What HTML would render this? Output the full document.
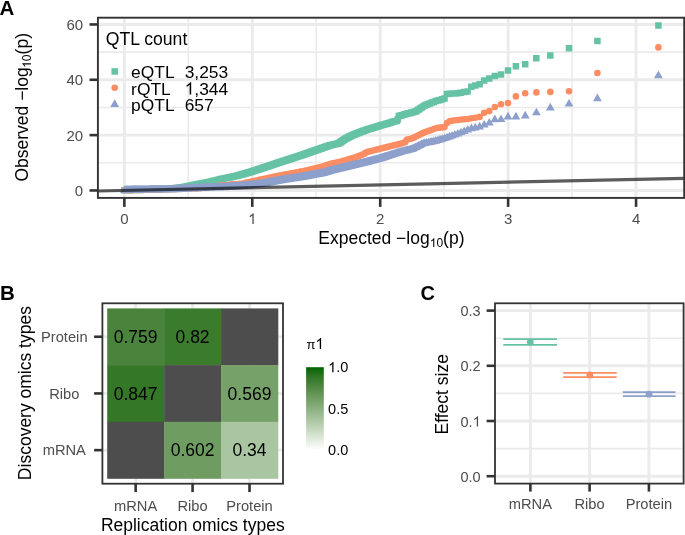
<!DOCTYPE html>
<html><head><meta charset="utf-8"><style>
html,body{margin:0;padding:0;background:#fff;}
body{width:685px;height:535px;overflow:hidden;font-family:"Liberation Sans",sans-serif;}
svg{display:block;will-change:transform;}
</style></head><body>
<svg width="685" height="535" viewBox="0 0 685 535">
<rect width="685" height="535" fill="#fff"/>
<rect x="97.9" y="17.7" width="586.3000000000001" height="180.20000000000002" fill="#fff"/>
<line x1="188.31" y1="17.7" x2="188.31" y2="197.9" stroke="#EBEBEB" stroke-width="1.6"/>
<line x1="316.24" y1="17.7" x2="316.24" y2="197.9" stroke="#EBEBEB" stroke-width="1.6"/>
<line x1="444.16" y1="17.7" x2="444.16" y2="197.9" stroke="#EBEBEB" stroke-width="1.6"/>
<line x1="572.09" y1="17.7" x2="572.09" y2="197.9" stroke="#EBEBEB" stroke-width="1.6"/>
<line x1="97.9" y1="162.78" x2="684.2" y2="162.78" stroke="#EBEBEB" stroke-width="1.6"/>
<line x1="97.9" y1="107.45" x2="684.2" y2="107.45" stroke="#EBEBEB" stroke-width="1.6"/>
<line x1="97.9" y1="52.11" x2="684.2" y2="52.11" stroke="#EBEBEB" stroke-width="1.6"/>
<line x1="124.35" y1="17.7" x2="124.35" y2="197.9" stroke="#EBEBEB" stroke-width="2.9"/>
<line x1="252.27" y1="17.7" x2="252.27" y2="197.9" stroke="#EBEBEB" stroke-width="2.9"/>
<line x1="380.20" y1="17.7" x2="380.20" y2="197.9" stroke="#EBEBEB" stroke-width="2.9"/>
<line x1="508.12" y1="17.7" x2="508.12" y2="197.9" stroke="#EBEBEB" stroke-width="2.9"/>
<line x1="636.05" y1="17.7" x2="636.05" y2="197.9" stroke="#EBEBEB" stroke-width="2.9"/>
<line x1="97.9" y1="190.45" x2="684.2" y2="190.45" stroke="#EBEBEB" stroke-width="2.9"/>
<line x1="97.9" y1="135.12" x2="684.2" y2="135.12" stroke="#EBEBEB" stroke-width="2.9"/>
<line x1="97.9" y1="79.78" x2="684.2" y2="79.78" stroke="#EBEBEB" stroke-width="2.9"/>
<line x1="97.9" y1="24.45" x2="684.2" y2="24.45" stroke="#EBEBEB" stroke-width="2.9"/>
<path d="M658.4 25.4h.02M597.4 41.0h.02M569.0 48.2h.02M550.3 55.5h.02M536.3 58.3h.02M525.2 64.2h.02M515.9 66.2h.02M508.0 70.4h.02M501.0 74.4h.02M494.8 76.1h.02M489.3 78.6h.02M484.2 80.5h.02M479.6 84.3h.02M475.3 85.5h.02M471.3 86.7h.02M467.6 91.4h.02M464.2 92.1h.02M460.9 92.8h.02M457.8 93.2h.02M454.9 93.4h.02M452.1 93.5h.02M449.5 93.7h.02M446.9 93.9h.02M444.5 98.5h.02M442.2 99.3h.02M440.0 99.9h.02M437.9 100.4h.02M435.8 101.1h.02M433.8 101.9h.02M431.9 102.6h.02M430.0 103.4h.02M428.3 104.1h.02M426.5 104.8h.02M424.8 105.5h.02M423.2 106.4h.02M421.6 107.5h.02M420.1 108.5h.02M418.6 109.5h.02M417.1 110.5h.02M415.7 111.4h.02M414.3 111.8h.02M412.9 112.2h.02M411.6 112.6h.02M410.3 112.9h.02M409.1 113.2h.02M407.8 113.5h.02M406.6 113.8h.02M405.4 114.2h.02M404.3 114.6h.02M403.1 114.9h.02M402.0 115.2h.02M400.9 115.5h.02M399.9 115.7h.02M398.8 115.9h.02M397.8 119.2h.02M396.8 120.9h.02M395.8 121.1h.02M394.8 121.3h.02M393.9 121.4h.02M392.9 121.8h.02M392.0 122.1h.02M391.1 122.4h.02M390.2 122.7h.02M389.3 122.9h.02M388.4 123.2h.02M387.6 123.4h.02M386.7 123.7h.02M385.9 123.9h.02M385.1 124.2h.02M384.3 124.4h.02M383.5 124.6h.02M382.7 124.9h.02M382.0 125.1h.02M381.2 125.3h.02M380.4 125.6h.02M379.7 125.8h.02M379.0 126.0h.02M378.2 126.2h.02M377.5 126.4h.02M376.8 126.6h.02M376.1 126.9h.02M375.5 127.1h.02M374.8 127.3h.02M374.1 127.5h.02M373.4 127.7h.02M372.8 127.9h.02M372.1 128.1h.02M371.5 128.3h.02M370.9 128.5h.02M370.3 128.7h.02M369.6 128.8h.02M369.0 129.0h.02M368.4 129.2h.02M367.8 129.4h.02M367.2 129.6h.02M366.6 129.8h.02M366.1 130.0h.02M365.5 130.2h.02M364.9 130.4h.02M364.4 130.6h.02M363.8 130.8h.02M363.3 131.0h.02M362.7 131.2h.02M362.2 131.4h.02M361.6 131.6h.02M361.1 131.8h.02M360.6 132.0h.02M360.1 132.2h.02M359.6 132.4h.02M359.0 132.6h.02M358.5 132.8h.02M358.0 133.0h.02M357.5 133.2h.02M357.1 133.4h.02M356.6 133.5h.02M356.1 133.7h.02M355.6 133.9h.02M355.1 134.1h.02M354.7 134.3h.02M354.2 134.4h.02M353.7 134.7h.02M353.3 134.9h.02M352.8 135.1h.02M352.4 135.3h.02M351.9 135.6h.02M351.5 135.8h.02M351.0 136.0h.02M350.6 136.2h.02M350.2 136.4h.02M349.7 136.6h.02M349.3 136.8h.02M348.9 137.0h.02M348.5 137.3h.02M348.0 137.5h.02M347.6 137.7h.02M347.2 137.9h.02M346.8 138.1h.02M346.4 138.3h.02M346.0 138.5h.02M345.6 138.6h.02M345.2 138.9h.02M344.8 139.2h.02M344.4 139.5h.02M344.0 139.7h.02M343.6 140.0h.02M343.3 140.3h.02M342.9 140.5h.02M342.5 140.8h.02M342.1 141.1h.02M341.8 141.3h.02M341.4 141.6h.02M341.0 141.9h.02M340.6 142.1h.02M340.3 142.4h.02M339.9 142.6h.02M339.6 142.9h.02M339.2 143.1h.02M338.9 143.3h.02M338.5 143.4h.02M338.2 143.5h.02M337.8 143.6h.02M337.5 143.6h.02M337.1 143.7h.02M336.8 143.8h.02M336.4 143.9h.02M336.1 143.9h.02M335.8 144.0h.02M335.4 144.1h.02M335.1 144.2h.02M334.8 144.2h.02M334.5 144.3h.02M334.1 144.4h.02M333.8 144.5h.02M333.5 144.5h.02M333.2 144.6h.02M332.8 144.7h.02M332.5 144.7h.02M332.2 144.8h.02M331.9 144.9h.02M331.6 144.9h.02M331.3 145.0h.02M331.0 145.1h.02M330.7 145.1h.02M330.4 145.2h.02M330.1 145.3h.02M329.8 145.4h.02M329.5 145.5h.02M329.2 145.6h.02M328.9 145.7h.02M328.6 145.8h.02M328.3 145.9h.02M328.0 146.0h.02M327.7 146.1h.02M327.4 146.2h.02M327.1 146.3h.02M326.9 146.4h.02M326.6 146.5h.02M326.3 146.6h.02M326.0 146.7h.02M325.7 146.8h.02M325.4 146.9h.02M325.2 147.0h.02M324.9 147.1h.02M324.6 147.2h.02M324.4 147.3h.02M324.1 147.4h.02M323.8 147.5h.02M323.5 147.6h.02M323.3 147.7h.02M323.0 147.8h.02M322.7 147.8h.02M322.5 147.9h.02M322.2 148.0h.02M322.0 148.1h.02M321.7 148.2h.02M321.4 148.3h.02M321.2 148.4h.02M320.9 148.5h.02M320.7 148.6h.02M320.4 148.7h.02M320.2 148.7h.02M319.9 148.8h.02M319.7 148.9h.02M319.4 149.0h.02M319.2 149.1h.02M318.9 149.2h.02M318.7 149.3h.02M318.4 149.3h.02M318.2 149.4h.02M317.9 149.5h.02M317.7 149.6h.02M317.5 149.7h.02M317.2 149.8h.02M317.0 149.9h.02M316.7 149.9h.02M316.5 150.0h.02M316.3 150.1h.02M316.0 150.2h.02M315.8 150.3h.02M315.6 150.3h.02M315.3 150.4h.02M315.1 150.5h.02M314.9 150.6h.02M314.7 150.7h.02M314.4 150.7h.02M314.2 150.8h.02M314.0 150.9h.02M313.7 151.0h.02M313.5 151.1h.02M313.3 151.1h.02M313.1 151.2h.02M312.9 151.3h.02M312.6 151.4h.02M312.4 151.4h.02M312.2 151.5h.02M312.0 151.6h.02M311.8 151.7h.02M311.5 151.7h.02M311.3 151.8h.02M311.1 151.9h.02M310.9 152.0h.02M310.7 152.0h.02M310.5 152.1h.02M310.3 152.2h.02M310.1 152.3h.02M309.9 152.3h.02M309.6 152.4h.02M309.4 152.5h.02M309.2 152.6h.02M309.0 152.6h.02M308.8 152.7h.02M308.6 152.8h.02M308.4 152.8h.02M308.2 152.9h.02M308.0 153.0h.02M307.8 153.0h.02M307.6 153.1h.02M307.4 153.2h.02M307.2 153.3h.02M307.0 153.3h.02M306.8 153.4h.02M306.6 153.5h.02M306.4 153.5h.02M306.2 153.6h.02M306.0 153.7h.02M305.8 153.7h.02M305.6 153.8h.02M305.4 153.9h.02M305.2 153.9h.02M305.0 154.0h.02M304.9 154.1h.02M304.7 154.1h.02M304.5 154.2h.02M304.3 154.3h.02M304.1 154.3h.02M303.9 154.4h.02M303.7 154.5h.02M303.5 154.5h.02M303.3 154.6h.02M303.2 154.7h.02M303.0 154.7h.02M302.8 154.8h.02M302.6 154.9h.02M302.4 154.9h.02M302.2 155.0h.02M302.1 155.0h.02M301.9 155.1h.02M301.5 155.2h.02M301.3 155.3h.02M301.2 155.3h.02M301.0 155.4h.02M300.8 155.5h.02M300.6 155.5h.02M300.4 155.6h.02M300.3 155.6h.02M299.9 155.7h.02M299.7 155.8h.02M299.4 155.9h.02M299.0 156.0h.02M298.7 156.1h.02M298.4 156.3h.02M298.2 156.3h.02M297.9 156.4h.02M297.5 156.5h.02M297.2 156.6h.02M296.9 156.7h.02M296.5 156.9h.02M296.4 156.9h.02M296.2 157.0h.02M295.9 157.1h.02M295.7 157.1h.02M295.5 157.2h.02M295.1 157.3h.02M294.7 157.4h.02M294.4 157.5h.02M294.1 157.6h.02M293.8 157.7h.02M293.3 157.9h.02M293.2 157.9h.02M293.0 158.0h.02M292.7 158.1h.02M292.6 158.1h.02M292.4 158.2h.02M291.9 158.3h.02M291.6 158.4h.02M291.3 158.5h.02M290.9 158.7h.02M290.7 158.7h.02M290.6 158.8h.02M290.3 158.9h.02M290.2 158.9h.02M289.9 159.0h.02M289.6 159.1h.02M289.1 159.3h.02M289.0 159.3h.02M288.8 159.4h.02M288.6 159.5h.02M288.4 159.5h.02M288.1 159.6h.02M287.9 159.7h.02M287.7 159.7h.02M287.4 159.8h.02M287.2 159.9h.02M286.7 160.0h.02M286.5 160.1h.02M286.1 160.3h.02M285.9 160.3h.02M285.6 160.4h.02M285.4 160.5h.02M285.2 160.5h.02M285.0 160.6h.02M284.7 160.7h.02M284.3 160.8h.02M284.0 160.9h.02M283.9 161.0h.02M283.7 161.1h.02M283.5 161.1h.02M283.3 161.2h.02M282.9 161.3h.02M282.5 161.4h.02M282.2 161.5h.02M281.9 161.6h.02M281.6 161.7h.02M281.5 161.8h.02M281.1 161.9h.02M281.0 161.9h.02M280.9 162.0h.02M280.5 162.1h.02M280.1 162.2h.02M279.9 162.3h.02M279.7 162.3h.02M279.4 162.5h.02M279.3 162.5h.02M279.0 162.6h.02M278.7 162.7h.02M278.3 162.8h.02M278.1 162.9h.02M277.9 162.9h.02M277.7 163.0h.02M277.4 163.1h.02M276.9 163.3h.02M276.8 163.3h.02M276.6 163.4h.02M276.2 163.5h.02M275.9 163.6h.02M275.6 163.7h.02M275.5 163.7h.02M275.2 163.9h.02M275.0 163.9h.02M274.9 164.0h.02M274.5 164.1h.02M274.4 164.1h.02M274.2 164.2h.02M273.9 164.3h.02M273.8 164.3h.02M273.4 164.4h.02M273.2 164.5h.02M273.1 164.5h.02M272.8 164.7h.02M272.6 164.7h.02M272.5 164.8h.02M272.0 164.9h.02M271.7 165.0h.02M271.4 165.1h.02M271.0 165.3h.02M270.8 165.3h.02M270.7 165.4h.02M270.4 165.5h.02M270.2 165.5h.02M270.0 165.6h.02M269.6 165.7h.02M269.5 165.7h.02M269.2 165.8h.02M268.9 165.9h.02M268.5 166.1h.02M268.3 166.1h.02M268.2 166.2h.02M267.9 166.3h.02M267.8 166.3h.02M267.6 166.4h.02M267.2 166.5h.02M266.8 166.6h.02M266.6 166.7h.02M266.5 166.7h.02M266.1 166.9h.02M266.0 166.9h.02M265.7 167.0h.02M265.4 167.1h.02M265.4 167.1h.02M265.1 167.2h.02M264.8 167.3h.02M264.7 167.3h.02M264.3 167.5h.02M264.1 167.5h.02M264.1 167.6h.02M263.7 167.7h.02M263.6 167.7h.02M263.3 167.8h.02M263.0 167.9h.02M262.6 168.0h.02M262.3 168.1h.02M262.3 168.1h.02M261.9 168.3h.02M261.7 168.3h.02M261.5 168.4h.02M261.2 168.5h.02M260.8 168.6h.02M260.6 168.7h.02M260.5 168.7h.02M260.2 168.8h.02M260.0 168.9h.02M259.8 169.0h.02M259.5 169.1h.02M259.3 169.1h.02M259.1 169.2h.02M258.8 169.3h.02M258.7 169.3h.02M258.4 169.4h.02M258.1 169.5h.02M257.7 169.6h.02M257.5 169.7h.02M257.4 169.7h.02M257.0 169.9h.02M256.8 169.9h.02M256.7 170.0h.02M256.4 170.1h.02M256.2 170.1h.02M256.0 170.2h.02M255.6 170.3h.02M255.6 170.3h.02M255.3 170.4h.02M254.9 170.5h.02M254.6 170.6h.02M254.3 170.7h.02M254.2 170.7h.02M253.9 170.9h.02M253.7 170.9h.02M253.6 171.0h.02M253.2 171.1h.02M253.1 171.1h.02M252.8 171.2h.02M252.5 171.3h.02M252.1 171.4h.02M251.8 171.5h.02M251.8 171.5h.02M251.4 171.7h.02M251.2 171.7h.02M251.1 171.8h.02M250.7 171.9h.02M250.6 171.9h.02M250.4 172.0h.02M250.0 172.1h.02M249.7 172.2h.02M249.4 172.3h.02M249.3 172.3h.02M249.0 172.4h.02M248.8 172.5h.02M248.6 172.5h.02M248.3 172.6h.02M248.0 172.7h.02M247.9 172.7h.02M247.6 172.8h.02M247.3 172.9h.02M247.2 172.9h.02M246.9 173.0h.02M246.6 173.1h.02M246.5 173.1h.02M246.2 173.2h.02M245.8 173.3h.02M245.5 173.4h.02M245.1 173.5h.02M244.8 173.6h.02M244.4 173.7h.02M244.1 173.8h.02M243.8 173.9h.02M243.6 173.9h.02M243.4 174.0h.02M243.0 174.1h.02M242.9 174.1h.02M242.7 174.2h.02M242.3 174.3h.02M242.2 174.3h.02M242.0 174.4h.02M241.6 174.5h.02M241.5 174.5h.02M241.3 174.6h.02M240.9 174.7h.02M240.7 174.7h.02M240.6 174.7h.02M240.2 174.8h.02M240.0 174.9h.02M239.9 174.9h.02M239.5 175.0h.02M239.3 175.1h.02M239.2 175.1h.02M238.8 175.2h.02M238.6 175.3h.02M238.5 175.3h.02M238.1 175.4h.02M237.9 175.5h.02M237.8 175.5h.02M237.5 175.6h.02M237.1 175.7h.02M236.7 175.8h.02M236.4 175.9h.02M236.0 176.0h.02M235.7 176.1h.02M235.3 176.2h.02M235.0 176.2h.02M234.7 176.3h.02M234.6 176.3h.02M234.3 176.4h.02M233.9 176.5h.02M233.7 176.5h.02M233.6 176.5h.02M233.2 176.6h.02M232.9 176.7h.02M232.8 176.7h.02M232.6 176.7h.02M232.2 176.8h.02M231.8 176.9h.02M231.8 176.9h.02M231.5 177.0h.02M231.1 177.0h.02M230.8 177.1h.02M230.8 177.1h.02M230.4 177.2h.02M230.1 177.3h.02M229.8 177.3h.02M229.7 177.3h.02M229.4 177.4h.02M229.0 177.5h.02M228.9 177.5h.02M228.7 177.5h.02M228.4 177.6h.02M228.0 177.7h.02M227.9 177.7h.02M227.6 177.8h.02M227.3 177.8h.02M226.9 177.9h.02M226.6 178.0h.02M226.2 178.1h.02M225.9 178.1h.02M225.9 178.1h.02M225.5 178.2h.02M225.2 178.3h.02M225.0 178.3h.02M224.8 178.3h.02M224.5 178.4h.02M224.1 178.5h.02M224.0 178.5h.02M223.8 178.6h.02M223.5 178.6h.02M223.1 178.7h.02M223.1 178.7h.02M222.8 178.8h.02M222.4 178.8h.02M222.2 178.9h.02M222.0 178.9h.02M221.7 179.0h.02M221.3 179.1h.02M221.0 179.2h.02M220.7 179.3h.02M220.5 179.3h.02M220.3 179.4h.02M220.0 179.4h.02M219.7 179.5h.02M219.6 179.5h.02M219.3 179.6h.02M218.9 179.7h.02M218.8 179.7h.02M218.6 179.8h.02M218.2 179.9h.02M218.0 179.9h.02M217.8 180.0h.02M217.5 180.0h.02M217.2 180.1h.02M217.2 180.1h.02M216.8 180.2h.02M216.5 180.3h.02M216.4 180.3h.02M216.1 180.4h.02M215.8 180.5h.02M215.6 180.5h.02M215.4 180.5h.02M215.0 180.6h.02M214.7 180.7h.02M214.7 180.7h.02M214.4 180.8h.02M214.0 180.9h.02M213.9 180.9h.02M213.6 181.0h.02M213.3 181.1h.02M213.1 181.1h.02M212.9 181.1h.02M212.6 181.2h.02M212.3 181.3h.02M211.9 181.4h.02M211.5 181.5h.02M211.4 181.5h.02M211.2 181.6h.02M210.8 181.7h.02M210.6 181.7h.02M210.5 181.7h.02M210.1 181.8h.02M209.8 181.9h.02M209.4 182.0h.02M209.1 182.1h.02M208.9 182.1h.02M208.8 182.1h.02M208.4 182.2h.02M208.1 182.3h.02M207.8 182.3h.02M207.7 182.3h.02M207.4 182.4h.02M207.0 182.5h.02M206.8 182.5h.02M206.7 182.5h.02M206.3 182.6h.02M206.0 182.7h.02M205.7 182.7h.02M205.6 182.7h.02M205.2 182.8h.02M204.9 182.9h.02M204.6 182.9h.02M204.6 182.9h.02M204.2 183.0h.02M203.9 183.1h.02M203.6 183.1h.02M203.5 183.1h.02M203.2 183.2h.02M202.8 183.3h.02M202.6 183.3h.02M202.5 183.3h.02M202.1 183.4h.02M201.8 183.5h.02M201.5 183.5h.02M201.4 183.5h.02M201.0 183.6h.02M200.7 183.7h.02M200.5 183.7h.02M200.3 183.7h.02M200.0 183.8h.02M199.7 183.9h.02M199.4 183.9h.02M199.3 183.9h.02M199.0 184.0h.02M198.6 184.1h.02M198.4 184.1h.02M198.3 184.1h.02M197.9 184.2h.02M197.6 184.3h.02M197.3 184.3h.02M197.2 184.3h.02M196.8 184.4h.02M196.5 184.5h.02M196.3 184.5h.02M196.1 184.5h.02M195.8 184.6h.02M195.4 184.7h.02M195.3 184.7h.02M195.1 184.7h.02M194.8 184.8h.02M194.4 184.9h.02M194.3 184.9h.02M194.0 185.0h.02M193.7 185.0h.02M193.3 185.1h.02M193.0 185.2h.02M192.7 185.2h.02M192.4 185.3h.02M192.3 185.3h.02M192.0 185.4h.02M191.6 185.5h.02M191.4 185.5h.02M191.3 185.5h.02M190.9 185.6h.02M190.5 185.7h.02M190.4 185.7h.02M190.2 185.7h.02M189.9 185.8h.02M189.5 185.9h.02M189.4 185.9h.02M189.1 186.0h.02M188.8 186.0h.02M188.5 186.1h.02M188.1 186.2h.02M187.8 186.2h.02M187.5 186.3h.02M187.4 186.3h.02M187.1 186.4h.02M186.7 186.5h.02M186.5 186.5h.02M186.4 186.5h.02M186.0 186.6h.02M185.7 186.7h.02M185.5 186.7h.02M185.3 186.7h.02M184.9 186.8h.02M184.6 186.9h.02M184.6 186.9h.02M184.2 187.0h.02M183.9 187.0h.02M183.6 187.1h.02M183.6 187.1h.02M183.2 187.2h.02M182.8 187.2h.02M182.5 187.3h.02M182.3 187.3h.02M182.1 187.3h.02M181.8 187.4h.02M181.5 187.4h.02M181.1 187.4h.02M180.8 187.5h.02M180.6 187.5h.02M180.4 187.5h.02M180.0 187.6h.02M179.7 187.6h.02M179.4 187.7h.02M179.0 187.7h.02M179.0 187.7h.02M178.7 187.7h.02M178.3 187.8h.02M178.0 187.8h.02M177.6 187.9h.02M177.3 187.9h.02M177.2 187.9h.02M176.9 188.0h.02M176.6 188.0h.02M176.2 188.0h.02M175.9 188.1h.02M175.7 188.1h.02M175.5 188.1h.02M175.2 188.2h.02M174.8 188.2h.02M174.5 188.3h.02M174.1 188.3h.02M174.1 188.3h.02M173.7 188.3h.02M173.4 188.4h.02M173.0 188.4h.02M172.7 188.5h.02M172.4 188.5h.02M172.4 188.5h.02M172.0 188.6h.02M171.7 188.6h.02M171.3 188.6h.02M170.9 188.7h.02M170.8 188.7h.02M170.6 188.7h.02M170.3 188.8h.02M169.9 188.8h.02M169.6 188.8h.02M169.2 188.8h.02M168.9 188.8h.02M168.5 188.9h.02M168.2 188.9h.02M167.8 188.9h.02M167.5 188.9h.02M167.5 188.9h.02M167.1 188.9h.02M166.8 188.9h.02M166.4 188.9h.02M166.1 189.0h.02M165.7 189.0h.02M165.4 189.0h.02M165.0 189.0h.02M164.7 189.0h.02M164.3 189.0h.02M164.0 189.0h.02M163.6 189.1h.02M163.3 189.1h.02M162.9 189.1h.02M162.6 189.1h.02M162.5 189.1h.02M162.2 189.1h.02M161.9 189.1h.02M161.5 189.1h.02M161.2 189.2h.02M160.8 189.2h.02M160.5 189.2h.02M160.1 189.2h.02M159.8 189.2h.02M159.4 189.2h.02M159.1 189.2h.02M158.7 189.3h.02M158.4 189.3h.02M158.0 189.3h.02M157.7 189.3h.02M157.5 189.3h.02M157.3 189.3h.02M157.0 189.3h.02M156.6 189.3h.02M156.3 189.3h.02M155.9 189.4h.02M155.6 189.4h.02M155.2 189.4h.02M154.9 189.4h.02M154.5 189.4h.02M154.2 189.4h.02M153.8 189.4h.02M153.5 189.5h.02M153.1 189.5h.02M152.8 189.5h.02M152.5 189.5h.02M152.4 189.5h.02M152.1 189.5h.02M151.7 189.5h.02M151.4 189.5h.02M151.0 189.6h.02M150.7 189.6h.02M150.3 189.6h.02M150.0 189.6h.02M149.6 189.6h.02M149.3 189.6h.02M148.9 189.6h.02M148.6 189.6h.02M148.2 189.6h.02M147.9 189.7h.02M147.5 189.7h.02M147.2 189.7h.02M146.8 189.7h.02M146.5 189.7h.02M146.3 189.7h.02M146.1 189.7h.02M145.8 189.7h.02M145.4 189.7h.02M145.1 189.7h.02M144.7 189.7h.02M144.4 189.8h.02M144.0 189.8h.02M143.7 189.8h.02M143.3 189.8h.02M143.0 189.8h.02M142.6 189.8h.02M142.3 189.8h.02M141.9 189.8h.02M141.6 189.8h.02M141.2 189.8h.02M140.9 189.8h.02M140.5 189.9h.02M140.2 189.9h.02M139.8 189.9h.02M139.5 189.9h.02M139.1 189.9h.02M139.0 189.9h.02M138.8 189.9h.02M138.4 189.9h.02M138.1 189.9h.02M137.7 189.9h.02M137.4 189.9h.02M137.0 190.0h.02M136.7 190.0h.02M136.3 190.0h.02M136.0 190.0h.02M135.6 190.0h.02M135.3 190.0h.02M134.9 190.0h.02M134.6 190.0h.02M134.2 190.0h.02M133.9 190.0h.02M133.5 190.1h.02M133.2 190.1h.02M132.8 190.1h.02M132.5 190.1h.02M132.1 190.1h.02M131.8 190.1h.02M131.7 190.1h.02M131.4 190.1h.02M131.1 190.1h.02M130.7 190.1h.02M130.4 190.1h.02M130.0 190.1h.02M129.7 190.2h.02M129.3 190.2h.02M129.0 190.2h.02M128.6 190.2h.02M128.3 190.2h.02M127.9 190.2h.02M127.6 190.2h.02M127.2 190.2h.02M126.9 190.2h.02M126.5 190.2h.02M126.2 190.3h.02M125.8 190.3h.02M125.5 190.3h.02M125.1 190.3h.02M124.8 190.3h.02M124.4 190.3h.02" stroke="#66C2A5" stroke-width="6.5" stroke-linecap="square" fill="none"/>
<path d="M658.4 47.4h.01M597.4 73.0h.01M569.0 91.3h.01M550.3 91.9h.01M536.4 92.4h.01M525.2 93.2h.01M515.9 96.4h.01M508.0 103.1h.01M501.0 104.2h.01M494.8 107.0h.01M489.3 111.1h.01M484.2 112.8h.01M479.6 116.9h.01M475.3 117.7h.01M471.4 118.2h.01M467.7 119.0h.01M464.2 119.3h.01M460.9 119.6h.01M457.8 120.0h.01M454.9 120.3h.01M452.1 120.7h.01M449.5 121.2h.01M447.0 123.0h.01M444.5 127.1h.01M442.2 127.4h.01M440.0 127.6h.01M437.9 127.9h.01M435.8 128.3h.01M433.8 129.0h.01M431.9 129.7h.01M430.1 130.4h.01M428.3 131.0h.01M426.5 131.6h.01M424.8 132.2h.01M423.2 132.9h.01M421.6 133.7h.01M420.1 134.5h.01M418.6 135.3h.01M417.1 136.0h.01M415.7 136.7h.01M414.3 137.4h.01M412.9 138.1h.01M411.6 138.6h.01M410.3 138.8h.01M409.1 139.0h.01M407.8 139.3h.01M406.6 140.1h.01M405.4 142.0h.01M404.3 142.5h.01M403.2 143.0h.01M402.0 143.3h.01M401.0 143.6h.01M399.9 143.9h.01M398.8 144.1h.01M397.8 144.4h.01M396.8 144.6h.01M395.8 144.9h.01M394.8 145.1h.01M393.9 145.3h.01M392.9 145.6h.01M392.0 145.8h.01M391.1 146.0h.01M390.2 146.3h.01M389.3 146.5h.01M388.5 146.7h.01M387.6 146.9h.01M386.8 147.1h.01M385.9 147.3h.01M385.1 147.5h.01M384.3 147.7h.01M383.5 148.0h.01M382.7 148.1h.01M382.0 148.3h.01M381.2 148.5h.01M380.4 148.7h.01M379.7 148.9h.01M379.0 149.1h.01M378.3 149.3h.01M377.5 149.5h.01M376.8 149.6h.01M376.1 149.8h.01M375.5 150.0h.01M374.8 150.1h.01M374.1 150.3h.01M373.5 150.5h.01M372.8 150.6h.01M372.2 150.8h.01M371.5 151.0h.01M370.9 151.1h.01M370.3 151.3h.01M369.6 151.4h.01M369.0 151.6h.01M368.4 151.7h.01M367.8 151.9h.01M367.2 152.0h.01M366.7 152.2h.01M366.1 152.5h.01M365.5 152.9h.01M364.9 153.3h.01M364.4 153.7h.01M363.8 154.1h.01M363.3 154.3h.01M362.7 154.5h.01M362.2 154.7h.01M361.7 154.9h.01M361.1 155.1h.01M360.6 155.3h.01M360.1 155.5h.01M359.6 155.7h.01M359.1 155.9h.01M358.6 156.1h.01M358.1 156.3h.01M357.6 156.5h.01M357.1 156.6h.01M356.6 156.8h.01M356.1 157.0h.01M355.6 157.2h.01M355.1 157.4h.01M354.7 157.6h.01M354.2 157.7h.01M353.7 157.9h.01M353.3 158.0h.01M352.8 158.1h.01M352.4 158.3h.01M351.9 158.4h.01M351.5 158.5h.01M351.0 158.7h.01M350.6 158.8h.01M350.2 158.9h.01M349.7 159.1h.01M349.3 159.2h.01M348.9 159.3h.01M348.5 159.4h.01M348.0 159.6h.01M347.6 159.7h.01M347.2 159.8h.01M346.8 159.9h.01M346.4 160.0h.01M346.0 160.2h.01M345.6 160.3h.01M345.2 160.4h.01M344.8 160.5h.01M344.4 160.6h.01M344.0 160.8h.01M343.7 160.9h.01M343.3 161.0h.01M342.9 161.1h.01M342.5 161.2h.01M342.1 161.3h.01M341.8 161.4h.01M341.4 161.5h.01M341.0 161.6h.01M340.7 161.7h.01M340.3 161.7h.01M339.9 161.8h.01M339.6 161.9h.01M339.2 162.0h.01M338.9 162.1h.01M338.5 162.1h.01M338.2 162.2h.01M337.8 162.3h.01M337.5 162.4h.01M337.1 162.5h.01M336.8 162.5h.01M336.5 162.6h.01M336.1 162.7h.01M335.8 162.8h.01M335.4 162.8h.01M335.1 162.9h.01M334.8 163.0h.01M334.5 163.1h.01M334.1 163.2h.01M333.8 163.2h.01M333.5 163.3h.01M333.2 163.4h.01M332.9 163.4h.01M332.5 163.5h.01M332.2 163.6h.01M331.9 163.7h.01M331.6 163.7h.01M331.3 163.8h.01M331.0 163.9h.01M330.7 163.9h.01M330.4 164.0h.01M330.1 164.1h.01M329.8 164.2h.01M329.5 164.3h.01M329.2 164.4h.01M328.9 164.5h.01M328.6 164.6h.01M328.3 164.7h.01M328.0 164.8h.01M327.7 164.9h.01M327.4 165.0h.01M327.1 165.1h.01M326.9 165.2h.01M326.6 165.3h.01M326.3 165.4h.01M326.0 165.4h.01M325.7 165.5h.01M325.5 165.6h.01M325.2 165.7h.01M324.9 165.8h.01M324.6 165.9h.01M324.4 166.0h.01M324.1 166.1h.01M323.8 166.2h.01M323.6 166.3h.01M323.3 166.4h.01M323.0 166.5h.01M322.8 166.5h.01M322.5 166.6h.01M322.2 166.7h.01M322.0 166.8h.01M321.7 166.8h.01M321.5 166.9h.01M321.2 166.9h.01M320.9 167.0h.01M320.7 167.1h.01M320.4 167.1h.01M320.2 167.2h.01M319.9 167.2h.01M319.7 167.3h.01M319.4 167.4h.01M319.2 167.4h.01M318.9 167.5h.01M318.7 167.5h.01M318.4 167.6h.01M318.2 167.7h.01M318.0 167.7h.01M317.7 167.8h.01M317.5 167.8h.01M317.2 167.9h.01M317.0 167.9h.01M316.8 168.0h.01M316.5 168.1h.01M316.3 168.1h.01M316.1 168.2h.01M315.8 168.2h.01M315.6 168.3h.01M315.4 168.3h.01M315.1 168.4h.01M314.9 168.5h.01M314.7 168.5h.01M314.4 168.6h.01M314.2 168.6h.01M314.0 168.7h.01M313.8 168.7h.01M313.5 168.8h.01M313.3 168.8h.01M313.1 168.9h.01M312.9 168.9h.01M312.6 169.0h.01M312.4 169.0h.01M312.2 169.1h.01M312.0 169.1h.01M311.8 169.2h.01M311.6 169.3h.01M311.3 169.3h.01M311.1 169.4h.01M310.9 169.4h.01M310.7 169.5h.01M310.5 169.5h.01M310.3 169.6h.01M310.1 169.6h.01M309.9 169.7h.01M309.7 169.7h.01M309.4 169.8h.01M309.2 169.8h.01M309.0 169.9h.01M308.8 169.9h.01M308.6 170.0h.01M308.4 170.0h.01M308.2 170.1h.01M308.0 170.1h.01M307.8 170.2h.01M307.6 170.2h.01M307.4 170.2h.01M307.2 170.3h.01M307.0 170.3h.01M306.8 170.4h.01M306.6 170.4h.01M306.4 170.5h.01M306.2 170.5h.01M306.0 170.6h.01M305.8 170.6h.01M305.6 170.7h.01M305.4 170.7h.01M305.2 170.8h.01M305.1 170.8h.01M304.9 170.9h.01M304.7 170.9h.01M304.5 171.0h.01M304.3 171.0h.01M303.9 171.1h.01M303.7 171.1h.01M303.5 171.2h.01M303.4 171.2h.01M303.2 171.3h.01M303.0 171.3h.01M302.8 171.4h.01M302.6 171.4h.01M302.4 171.4h.01M302.2 171.5h.01M302.1 171.5h.01M301.9 171.6h.01M301.5 171.6h.01M301.3 171.7h.01M301.2 171.7h.01M301.0 171.7h.01M300.8 171.8h.01M300.6 171.8h.01M300.5 171.8h.01M300.3 171.8h.01M299.9 171.9h.01M299.8 171.9h.01M299.4 172.0h.01M299.1 172.1h.01M298.7 172.1h.01M298.4 172.2h.01M297.9 172.3h.01M297.7 172.3h.01M297.5 172.3h.01M297.2 172.4h.01M296.9 172.5h.01M296.5 172.5h.01M296.2 172.6h.01M295.9 172.6h.01M295.6 172.7h.01M295.4 172.7h.01M295.1 172.8h.01M294.8 172.8h.01M294.4 172.9h.01M294.1 173.0h.01M293.8 173.0h.01M293.3 173.1h.01M293.0 173.2h.01M292.7 173.2h.01M292.4 173.3h.01M292.1 173.3h.01M292.0 173.3h.01M291.7 173.4h.01M291.4 173.5h.01M291.1 173.5h.01M290.9 173.5h.01M290.6 173.6h.01M290.3 173.6h.01M289.9 173.7h.01M289.6 173.8h.01M289.1 173.9h.01M288.9 173.9h.01M288.6 174.0h.01M288.1 174.0h.01M287.9 174.1h.01M287.7 174.1h.01M287.4 174.2h.01M287.2 174.2h.01M286.7 174.3h.01M286.6 174.3h.01M286.5 174.3h.01M286.1 174.4h.01M285.7 174.5h.01M285.5 174.5h.01M285.4 174.5h.01M285.0 174.6h.01M284.7 174.7h.01M284.5 174.7h.01M284.3 174.7h.01M283.9 174.8h.01M283.7 174.8h.01M283.3 174.9h.01M282.9 175.0h.01M282.5 175.1h.01M282.2 175.1h.01M281.9 175.2h.01M281.5 175.2h.01M281.1 175.3h.01M280.9 175.4h.01M280.5 175.5h.01M280.2 175.5h.01M280.1 175.5h.01M279.8 175.6h.01M279.4 175.7h.01M279.3 175.7h.01M279.0 175.8h.01M278.7 175.8h.01M278.3 175.9h.01M278.0 176.0h.01M277.7 176.0h.01M277.4 176.1h.01M276.9 176.2h.01M276.6 176.3h.01M276.4 176.3h.01M276.2 176.4h.01M275.9 176.4h.01M275.5 176.5h.01M275.4 176.5h.01M275.2 176.6h.01M274.9 176.6h.01M274.5 176.7h.01M274.2 176.8h.01M273.9 176.8h.01M273.5 176.9h.01M273.4 176.9h.01M273.1 177.0h.01M272.8 177.1h.01M272.7 177.1h.01M272.5 177.1h.01M272.0 177.2h.01M271.7 177.3h.01M271.4 177.4h.01M271.0 177.5h.01M270.8 177.5h.01M270.7 177.5h.01M270.4 177.6h.01M270.0 177.7h.01M269.8 177.7h.01M269.7 177.7h.01M269.3 177.8h.01M269.0 177.9h.01M268.9 177.9h.01M268.6 178.0h.01M268.3 178.0h.01M267.9 178.1h.01M267.6 178.2h.01M267.2 178.3h.01M267.0 178.3h.01M266.8 178.3h.01M266.5 178.4h.01M266.1 178.5h.01M266.0 178.5h.01M265.7 178.6h.01M265.5 178.6h.01M265.1 178.7h.01M264.7 178.8h.01M264.3 178.9h.01M264.1 178.9h.01M263.7 179.0h.01M263.3 179.1h.01M263.2 179.1h.01M263.0 179.1h.01M262.6 179.2h.01M262.3 179.3h.01M262.2 179.3h.01M261.9 179.4h.01M261.6 179.4h.01M261.3 179.5h.01M261.2 179.5h.01M260.9 179.6h.01M260.5 179.7h.01M260.3 179.7h.01M260.2 179.7h.01M259.8 179.8h.01M259.5 179.9h.01M259.4 179.9h.01M259.2 180.0h.01M258.8 180.0h.01M258.6 180.1h.01M258.4 180.1h.01M258.1 180.2h.01M257.7 180.3h.01M257.7 180.3h.01M257.4 180.4h.01M257.0 180.4h.01M256.7 180.5h.01M256.4 180.6h.01M256.0 180.7h.01M255.8 180.7h.01M255.7 180.7h.01M255.3 180.8h.01M254.9 180.9h.01M254.6 181.0h.01M254.3 181.1h.01M254.0 181.1h.01M253.9 181.1h.01M253.6 181.2h.01M253.2 181.3h.01M253.1 181.3h.01M252.8 181.4h.01M252.5 181.4h.01M252.2 181.5h.01M252.1 181.5h.01M251.8 181.6h.01M251.4 181.7h.01M251.3 181.7h.01M251.1 181.7h.01M250.8 181.8h.01M250.4 181.9h.01M250.0 182.0h.01M249.7 182.1h.01M249.5 182.1h.01M249.3 182.1h.01M249.0 182.2h.01M248.6 182.3h.01M248.6 182.3h.01M248.3 182.4h.01M247.9 182.4h.01M247.7 182.5h.01M247.6 182.5h.01M247.3 182.6h.01M246.9 182.7h.01M246.8 182.7h.01M246.5 182.8h.01M246.2 182.8h.01M245.8 182.9h.01M245.5 183.0h.01M245.1 183.1h.01M244.9 183.1h.01M244.8 183.1h.01M244.4 183.2h.01M244.1 183.3h.01M244.0 183.3h.01M243.8 183.4h.01M243.4 183.4h.01M243.1 183.5h.01M243.0 183.5h.01M242.7 183.6h.01M242.3 183.7h.01M242.2 183.7h.01M242.0 183.8h.01M241.7 183.8h.01M241.3 183.9h.01M241.3 183.9h.01M240.9 184.0h.01M240.6 184.0h.01M240.3 184.1h.01M239.9 184.1h.01M239.8 184.1h.01M239.5 184.1h.01M239.2 184.2h.01M238.8 184.2h.01M238.5 184.2h.01M238.1 184.3h.01M237.8 184.3h.01M237.5 184.3h.01M237.1 184.4h.01M236.7 184.4h.01M236.4 184.4h.01M236.1 184.5h.01M235.8 184.5h.01M235.7 184.5h.01M235.3 184.5h.01M235.0 184.6h.01M234.6 184.6h.01M234.3 184.6h.01M233.9 184.7h.01M233.7 184.7h.01M233.6 184.7h.01M233.3 184.7h.01M232.9 184.8h.01M232.6 184.8h.01M232.2 184.9h.01M231.8 184.9h.01M231.7 184.9h.01M231.5 184.9h.01M231.1 185.0h.01M230.8 185.0h.01M230.4 185.0h.01M230.1 185.1h.01M229.7 185.1h.01M229.6 185.1h.01M229.4 185.1h.01M229.0 185.2h.01M228.7 185.2h.01M228.4 185.2h.01M228.0 185.3h.01M227.6 185.3h.01M227.6 185.3h.01M227.3 185.3h.01M226.9 185.4h.01M226.6 185.4h.01M226.2 185.4h.01M225.9 185.5h.01M225.5 185.5h.01M225.2 185.5h.01M224.9 185.6h.01M224.5 185.6h.01M224.1 185.6h.01M223.8 185.7h.01M223.5 185.7h.01M223.5 185.7h.01M223.1 185.7h.01M222.8 185.8h.01M222.4 185.8h.01M222.0 185.8h.01M221.7 185.9h.01M221.4 185.9h.01M221.3 185.9h.01M221.0 185.9h.01M220.7 186.0h.01M220.3 186.0h.01M220.0 186.0h.01M219.6 186.1h.01M219.4 186.1h.01M219.3 186.1h.01M218.9 186.2h.01M218.6 186.2h.01M218.2 186.2h.01M217.8 186.3h.01M217.5 186.3h.01M217.4 186.3h.01M217.2 186.3h.01M216.8 186.4h.01M216.5 186.4h.01M216.1 186.4h.01M215.8 186.5h.01M215.4 186.5h.01M215.3 186.5h.01M215.0 186.5h.01M214.7 186.6h.01M214.4 186.6h.01M214.0 186.6h.01M213.7 186.7h.01M213.3 186.7h.01M213.0 186.7h.01M212.6 186.8h.01M212.3 186.8h.01M211.9 186.8h.01M211.6 186.9h.01M211.2 186.9h.01M211.2 186.9h.01M210.8 186.9h.01M210.5 187.0h.01M210.1 187.0h.01M209.8 187.0h.01M209.5 187.1h.01M209.2 187.1h.01M209.1 187.1h.01M208.8 187.1h.01M208.4 187.2h.01M208.1 187.2h.01M207.7 187.2h.01M207.4 187.3h.01M207.1 187.3h.01M207.0 187.3h.01M206.7 187.3h.01M206.3 187.4h.01M206.0 187.4h.01M205.6 187.5h.01M205.3 187.5h.01M205.1 187.5h.01M204.9 187.5h.01M204.6 187.6h.01M204.2 187.6h.01M203.9 187.6h.01M203.5 187.7h.01M203.2 187.7h.01M203.0 187.7h.01M202.8 187.7h.01M202.5 187.8h.01M202.1 187.8h.01M201.8 187.8h.01M201.4 187.9h.01M201.1 187.9h.01M201.0 187.9h.01M200.7 187.9h.01M200.4 188.0h.01M200.0 188.0h.01M199.7 188.0h.01M199.3 188.0h.01M199.0 188.0h.01M198.6 188.0h.01M198.3 188.1h.01M197.9 188.1h.01M197.6 188.1h.01M197.2 188.1h.01M197.1 188.1h.01M196.9 188.1h.01M196.5 188.1h.01M196.1 188.1h.01M195.8 188.1h.01M195.5 188.2h.01M195.1 188.2h.01M194.8 188.2h.01M194.4 188.2h.01M194.1 188.2h.01M193.7 188.2h.01M193.4 188.2h.01M193.0 188.2h.01M192.7 188.3h.01M192.3 188.3h.01M192.0 188.3h.01M191.6 188.3h.01M191.4 188.3h.01M191.3 188.3h.01M190.9 188.3h.01M190.6 188.3h.01M190.2 188.3h.01M189.9 188.4h.01M189.5 188.4h.01M189.2 188.4h.01M188.8 188.4h.01M188.5 188.4h.01M188.1 188.4h.01M187.8 188.4h.01M187.4 188.4h.01M187.1 188.5h.01M186.7 188.5h.01M186.4 188.5h.01M186.0 188.5h.01M185.7 188.5h.01M185.7 188.5h.01M185.3 188.5h.01M185.0 188.5h.01M184.6 188.5h.01M184.3 188.6h.01M183.9 188.6h.01M183.6 188.6h.01M183.2 188.6h.01M182.9 188.6h.01M182.5 188.6h.01M182.2 188.6h.01M181.8 188.6h.01M181.5 188.6h.01M181.1 188.7h.01M180.8 188.7h.01M180.4 188.7h.01M180.1 188.7h.01M180.0 188.7h.01M179.7 188.7h.01M179.4 188.7h.01M179.0 188.7h.01M178.7 188.7h.01M178.3 188.8h.01M178.0 188.8h.01M177.6 188.8h.01M177.3 188.8h.01M176.9 188.8h.01M176.6 188.8h.01M176.2 188.8h.01M175.9 188.8h.01M175.5 188.9h.01M175.2 188.9h.01M174.8 188.9h.01M174.5 188.9h.01M174.3 188.9h.01M174.1 188.9h.01M173.8 188.9h.01M173.4 188.9h.01M173.1 188.9h.01M172.7 189.0h.01M172.4 189.0h.01M172.0 189.0h.01M171.7 189.0h.01M171.3 189.0h.01M171.0 189.0h.01M170.6 189.0h.01M170.3 189.0h.01M169.9 189.1h.01M169.6 189.1h.01M169.2 189.1h.01M168.9 189.1h.01M168.6 189.1h.01M168.5 189.1h.01M168.2 189.1h.01M167.8 189.1h.01M167.5 189.1h.01M167.1 189.2h.01M166.8 189.2h.01M166.4 189.2h.01M166.1 189.2h.01M165.7 189.2h.01M165.4 189.2h.01M165.0 189.2h.01M164.7 189.2h.01M164.3 189.2h.01M164.0 189.3h.01M163.6 189.3h.01M163.3 189.3h.01M162.9 189.3h.01M162.8 189.3h.01M162.6 189.3h.01M162.2 189.3h.01M161.9 189.3h.01M161.5 189.3h.01M161.2 189.4h.01M160.8 189.4h.01M160.5 189.4h.01M160.1 189.4h.01M159.8 189.4h.01M159.4 189.4h.01M159.1 189.4h.01M158.7 189.4h.01M158.4 189.4h.01M158.0 189.5h.01M157.7 189.5h.01M157.3 189.5h.01M157.0 189.5h.01M156.6 189.5h.01M156.3 189.5h.01M156.0 189.5h.01M155.9 189.5h.01M155.6 189.5h.01M155.2 189.5h.01M154.9 189.5h.01M154.5 189.5h.01M154.2 189.5h.01M153.8 189.6h.01M153.5 189.6h.01M153.1 189.6h.01M152.8 189.6h.01M152.4 189.6h.01M152.1 189.6h.01M151.7 189.6h.01M151.4 189.6h.01M151.0 189.6h.01M150.7 189.6h.01M150.3 189.6h.01M150.0 189.7h.01M149.6 189.7h.01M149.3 189.7h.01M148.9 189.7h.01M148.6 189.7h.01M148.2 189.7h.01M148.1 189.7h.01M147.9 189.7h.01M147.5 189.7h.01M147.2 189.7h.01M146.8 189.7h.01M146.5 189.7h.01M146.1 189.8h.01M145.8 189.8h.01M145.4 189.8h.01M145.1 189.8h.01M144.7 189.8h.01M144.4 189.8h.01M144.0 189.8h.01M143.7 189.8h.01M143.3 189.8h.01M143.0 189.8h.01M142.6 189.8h.01M142.3 189.8h.01M141.9 189.9h.01M141.6 189.9h.01M141.2 189.9h.01M140.9 189.9h.01M140.5 189.9h.01M140.2 189.9h.01M140.2 189.9h.01M139.8 189.9h.01M139.5 189.9h.01M139.1 189.9h.01M138.8 189.9h.01M138.4 189.9h.01M138.1 190.0h.01M137.7 190.0h.01M137.4 190.0h.01M137.0 190.0h.01M136.7 190.0h.01M136.3 190.0h.01M136.0 190.0h.01M135.6 190.0h.01M135.3 190.0h.01M134.9 190.0h.01M134.6 190.0h.01M134.2 190.1h.01M133.9 190.1h.01M133.5 190.1h.01M133.2 190.1h.01M132.8 190.1h.01M132.5 190.1h.01M132.3 190.1h.01M132.1 190.1h.01M131.8 190.1h.01M131.4 190.1h.01M131.1 190.1h.01M130.7 190.1h.01M130.4 190.1h.01M130.0 190.2h.01M129.7 190.2h.01M129.3 190.2h.01M129.0 190.2h.01M128.6 190.2h.01M128.3 190.2h.01M127.9 190.2h.01M127.6 190.2h.01M127.2 190.2h.01M126.9 190.2h.01M126.5 190.2h.01M126.2 190.3h.01M125.8 190.3h.01M125.5 190.3h.01M125.1 190.3h.01M124.8 190.3h.01M124.4 190.3h.01" stroke="#FC8D62" stroke-width="6.6" stroke-linecap="round" fill="none"/>
<path d="M658.4 70.6l4.4 7.62h-8.8zM597.4 93.6l4.4 7.62h-8.8zM569.0 98.9l4.4 7.62h-8.8zM550.3 102.8l4.4 7.62h-8.8zM536.4 107.7l4.4 7.62h-8.8zM525.2 110.8l4.4 7.62h-8.8zM515.9 111.8l4.4 7.62h-8.8zM508.0 111.8l4.4 7.62h-8.8zM501.0 114.4l4.4 7.62h-8.8zM494.8 114.6l4.4 7.62h-8.8zM489.3 117.9l4.4 7.62h-8.8zM484.2 120.0l4.4 7.62h-8.8zM479.6 121.8l4.4 7.62h-8.8zM475.3 122.8l4.4 7.62h-8.8zM471.4 123.6l4.4 7.62h-8.8zM467.7 125.0l4.4 7.62h-8.8zM464.2 126.4l4.4 7.62h-8.8zM460.9 127.7l4.4 7.62h-8.8zM457.8 128.9l4.4 7.62h-8.8zM454.9 129.9l4.4 7.62h-8.8zM452.1 130.9l4.4 7.62h-8.8zM449.5 131.8l4.4 7.62h-8.8zM447.0 132.7l4.4 7.62h-8.8zM444.5 133.5l4.4 7.62h-8.8zM442.2 134.2l4.4 7.62h-8.8zM440.0 134.8l4.4 7.62h-8.8zM437.9 135.5l4.4 7.62h-8.8zM435.8 136.1l4.4 7.62h-8.8zM433.8 136.6l4.4 7.62h-8.8zM431.9 136.9l4.4 7.62h-8.8zM430.1 137.3l4.4 7.62h-8.8zM428.3 137.7l4.4 7.62h-8.8zM426.5 138.0l4.4 7.62h-8.8zM424.8 138.3l4.4 7.62h-8.8zM423.2 138.7l4.4 7.62h-8.8zM421.6 139.5l4.4 7.62h-8.8zM420.1 140.3l4.4 7.62h-8.8zM418.6 141.0l4.4 7.62h-8.8zM417.1 141.7l4.4 7.62h-8.8zM415.7 142.4l4.4 7.62h-8.8zM414.3 143.1l4.4 7.62h-8.8zM412.9 143.8l4.4 7.62h-8.8zM411.6 144.4l4.4 7.62h-8.8zM410.3 144.7l4.4 7.62h-8.8zM409.1 145.0l4.4 7.62h-8.8zM407.8 145.3l4.4 7.62h-8.8zM406.6 145.6l4.4 7.62h-8.8zM405.4 145.9l4.4 7.62h-8.8zM404.3 146.2l4.4 7.62h-8.8zM403.2 146.5l4.4 7.62h-8.8zM402.0 146.7l4.4 7.62h-8.8zM401.0 147.0l4.4 7.62h-8.8zM399.9 147.3l4.4 7.62h-8.8zM398.8 147.6l4.4 7.62h-8.8zM397.8 147.9l4.4 7.62h-8.8zM396.8 148.3l4.4 7.62h-8.8zM395.8 148.6l4.4 7.62h-8.8zM394.8 148.9l4.4 7.62h-8.8zM393.9 149.2l4.4 7.62h-8.8zM392.9 149.5l4.4 7.62h-8.8zM392.0 149.8l4.4 7.62h-8.8zM391.1 150.1l4.4 7.62h-8.8zM390.2 150.4l4.4 7.62h-8.8zM389.3 150.7l4.4 7.62h-8.8zM388.5 151.0l4.4 7.62h-8.8zM387.6 151.3l4.4 7.62h-8.8zM386.8 151.5l4.4 7.62h-8.8zM385.9 151.8l4.4 7.62h-8.8zM385.1 152.1l4.4 7.62h-8.8zM384.3 152.3l4.4 7.62h-8.8zM383.5 152.6l4.4 7.62h-8.8zM382.7 152.8l4.4 7.62h-8.8zM382.0 153.1l4.4 7.62h-8.8zM381.2 153.3l4.4 7.62h-8.8zM380.4 153.6l4.4 7.62h-8.8zM379.7 153.8l4.4 7.62h-8.8zM379.0 154.0l4.4 7.62h-8.8zM378.3 154.2l4.4 7.62h-8.8zM377.5 154.4l4.4 7.62h-8.8zM376.8 154.6l4.4 7.62h-8.8zM376.1 154.7l4.4 7.62h-8.8zM375.5 154.9l4.4 7.62h-8.8zM374.8 155.1l4.4 7.62h-8.8zM374.1 155.3l4.4 7.62h-8.8zM373.5 155.5l4.4 7.62h-8.8zM372.8 155.6l4.4 7.62h-8.8zM372.2 155.8l4.4 7.62h-8.8zM371.5 156.0l4.4 7.62h-8.8zM370.9 156.2l4.4 7.62h-8.8zM370.3 156.3l4.4 7.62h-8.8zM369.6 156.5l4.4 7.62h-8.8zM369.0 156.6l4.4 7.62h-8.8zM368.4 156.8l4.4 7.62h-8.8zM367.8 157.0l4.4 7.62h-8.8zM367.2 157.1l4.4 7.62h-8.8zM366.7 157.3l4.4 7.62h-8.8zM366.1 157.4l4.4 7.62h-8.8zM365.5 157.6l4.4 7.62h-8.8zM364.9 157.7l4.4 7.62h-8.8zM364.4 157.8l4.4 7.62h-8.8zM363.8 158.0l4.4 7.62h-8.8zM363.3 158.1l4.4 7.62h-8.8zM362.7 158.2l4.4 7.62h-8.8zM362.2 158.4l4.4 7.62h-8.8zM361.7 158.5l4.4 7.62h-8.8zM361.1 158.6l4.4 7.62h-8.8zM360.6 158.7l4.4 7.62h-8.8zM360.1 158.9l4.4 7.62h-8.8zM359.6 159.0l4.4 7.62h-8.8zM359.1 159.1l4.4 7.62h-8.8zM358.6 159.2l4.4 7.62h-8.8zM358.1 159.4l4.4 7.62h-8.8zM357.6 159.5l4.4 7.62h-8.8zM357.1 159.6l4.4 7.62h-8.8zM356.6 159.7l4.4 7.62h-8.8zM356.1 159.8l4.4 7.62h-8.8zM355.6 159.9l4.4 7.62h-8.8zM355.1 160.1l4.4 7.62h-8.8zM354.7 160.2l4.4 7.62h-8.8zM354.2 160.3l4.4 7.62h-8.8zM353.7 160.4l4.4 7.62h-8.8zM353.3 160.5l4.4 7.62h-8.8zM352.8 160.6l4.4 7.62h-8.8zM352.4 160.7l4.4 7.62h-8.8zM351.9 160.8l4.4 7.62h-8.8zM351.5 160.9l4.4 7.62h-8.8zM351.0 161.1l4.4 7.62h-8.8zM350.6 161.2l4.4 7.62h-8.8zM350.2 161.3l4.4 7.62h-8.8zM349.7 161.4l4.4 7.62h-8.8zM349.3 161.5l4.4 7.62h-8.8zM348.9 161.6l4.4 7.62h-8.8zM348.5 161.7l4.4 7.62h-8.8zM348.0 161.8l4.4 7.62h-8.8zM347.6 161.9l4.4 7.62h-8.8zM347.2 162.0l4.4 7.62h-8.8zM346.8 162.1l4.4 7.62h-8.8zM346.4 162.2l4.4 7.62h-8.8zM346.0 162.3l4.4 7.62h-8.8zM345.6 162.4l4.4 7.62h-8.8zM345.2 162.5l4.4 7.62h-8.8zM344.8 162.6l4.4 7.62h-8.8zM344.4 162.7l4.4 7.62h-8.8zM344.0 162.7l4.4 7.62h-8.8zM343.7 162.8l4.4 7.62h-8.8zM343.3 162.9l4.4 7.62h-8.8zM342.9 163.0l4.4 7.62h-8.8zM342.5 163.1l4.4 7.62h-8.8zM342.1 163.2l4.4 7.62h-8.8zM341.8 163.3l4.4 7.62h-8.8zM341.4 163.4l4.4 7.62h-8.8zM341.0 163.5l4.4 7.62h-8.8zM340.7 163.6l4.4 7.62h-8.8zM340.3 163.6l4.4 7.62h-8.8zM339.9 163.7l4.4 7.62h-8.8zM339.6 163.8l4.4 7.62h-8.8zM339.2 163.9l4.4 7.62h-8.8zM338.9 164.0l4.4 7.62h-8.8zM338.5 164.1l4.4 7.62h-8.8zM338.2 164.2l4.4 7.62h-8.8zM337.8 164.2l4.4 7.62h-8.8zM337.5 164.3l4.4 7.62h-8.8zM337.1 164.4l4.4 7.62h-8.8zM336.8 164.5l4.4 7.62h-8.8zM336.5 164.6l4.4 7.62h-8.8zM336.1 164.7l4.4 7.62h-8.8zM335.8 164.7l4.4 7.62h-8.8zM335.4 164.8l4.4 7.62h-8.8zM335.1 164.9l4.4 7.62h-8.8zM334.8 165.0l4.4 7.62h-8.8zM334.5 165.0l4.4 7.62h-8.8zM334.1 165.1l4.4 7.62h-8.8zM333.8 165.2l4.4 7.62h-8.8zM333.5 165.3l4.4 7.62h-8.8zM333.2 165.4l4.4 7.62h-8.8zM332.9 165.4l4.4 7.62h-8.8zM332.5 165.5l4.4 7.62h-8.8zM332.2 165.6l4.4 7.62h-8.8zM331.9 165.7l4.4 7.62h-8.8zM331.6 165.7l4.4 7.62h-8.8zM331.3 165.8l4.4 7.62h-8.8zM331.0 165.9l4.4 7.62h-8.8zM330.7 166.0l4.4 7.62h-8.8zM330.4 166.0l4.4 7.62h-8.8zM330.1 166.1l4.4 7.62h-8.8zM329.8 166.2l4.4 7.62h-8.8zM329.5 166.3l4.4 7.62h-8.8zM329.2 166.4l4.4 7.62h-8.8zM328.9 166.5l4.4 7.62h-8.8zM328.6 166.6l4.4 7.62h-8.8zM328.3 166.6l4.4 7.62h-8.8zM328.0 166.7l4.4 7.62h-8.8zM327.7 166.8l4.4 7.62h-8.8zM327.4 166.9l4.4 7.62h-8.8zM327.1 167.0l4.4 7.62h-8.8zM326.9 167.1l4.4 7.62h-8.8zM326.6 167.2l4.4 7.62h-8.8zM326.3 167.3l4.4 7.62h-8.8zM326.0 167.4l4.4 7.62h-8.8zM325.7 167.4l4.4 7.62h-8.8zM325.5 167.5l4.4 7.62h-8.8zM325.2 167.6l4.4 7.62h-8.8zM324.9 167.7l4.4 7.62h-8.8zM324.6 167.8l4.4 7.62h-8.8zM324.4 167.9l4.4 7.62h-8.8zM324.1 168.0l4.4 7.62h-8.8zM323.8 168.0l4.4 7.62h-8.8zM323.6 168.1l4.4 7.62h-8.8zM323.3 168.2l4.4 7.62h-8.8zM323.0 168.3l4.4 7.62h-8.8zM322.8 168.4l4.4 7.62h-8.8zM322.5 168.4l4.4 7.62h-8.8zM322.2 168.5l4.4 7.62h-8.8zM322.0 168.5l4.4 7.62h-8.8zM321.7 168.6l4.4 7.62h-8.8zM321.5 168.6l4.4 7.62h-8.8zM321.2 168.7l4.4 7.62h-8.8zM320.9 168.7l4.4 7.62h-8.8zM320.7 168.8l4.4 7.62h-8.8zM320.4 168.8l4.4 7.62h-8.8zM320.2 168.9l4.4 7.62h-8.8zM319.9 168.9l4.4 7.62h-8.8zM319.7 169.0l4.4 7.62h-8.8zM319.4 169.0l4.4 7.62h-8.8zM319.2 169.1l4.4 7.62h-8.8zM318.9 169.1l4.4 7.62h-8.8zM318.7 169.2l4.4 7.62h-8.8zM318.4 169.2l4.4 7.62h-8.8zM318.2 169.3l4.4 7.62h-8.8zM318.0 169.3l4.4 7.62h-8.8zM317.7 169.4l4.4 7.62h-8.8zM317.5 169.4l4.4 7.62h-8.8zM317.2 169.4l4.4 7.62h-8.8zM317.0 169.5l4.4 7.62h-8.8zM316.8 169.5l4.4 7.62h-8.8zM316.5 169.6l4.4 7.62h-8.8zM316.3 169.6l4.4 7.62h-8.8zM316.1 169.7l4.4 7.62h-8.8zM315.8 169.7l4.4 7.62h-8.8zM315.6 169.8l4.4 7.62h-8.8zM315.4 169.8l4.4 7.62h-8.8zM315.1 169.8l4.4 7.62h-8.8zM314.9 169.9l4.4 7.62h-8.8zM314.7 169.9l4.4 7.62h-8.8zM314.4 170.0l4.4 7.62h-8.8zM314.2 170.0l4.4 7.62h-8.8zM314.0 170.1l4.4 7.62h-8.8zM313.8 170.1l4.4 7.62h-8.8zM313.5 170.2l4.4 7.62h-8.8zM313.3 170.2l4.4 7.62h-8.8zM313.1 170.2l4.4 7.62h-8.8zM312.9 170.3l4.4 7.62h-8.8zM312.6 170.3l4.4 7.62h-8.8zM312.4 170.4l4.4 7.62h-8.8zM312.2 170.4l4.4 7.62h-8.8zM312.0 170.4l4.4 7.62h-8.8zM311.8 170.5l4.4 7.62h-8.8zM311.6 170.5l4.4 7.62h-8.8zM311.3 170.6l4.4 7.62h-8.8zM311.1 170.6l4.4 7.62h-8.8zM310.9 170.7l4.4 7.62h-8.8zM310.7 170.7l4.4 7.62h-8.8zM310.5 170.7l4.4 7.62h-8.8zM310.3 170.8l4.4 7.62h-8.8zM310.1 170.8l4.4 7.62h-8.8zM309.9 170.9l4.4 7.62h-8.8zM309.7 170.9l4.4 7.62h-8.8zM309.4 170.9l4.4 7.62h-8.8zM309.2 171.0l4.4 7.62h-8.8zM309.0 171.0l4.4 7.62h-8.8zM308.8 171.1l4.4 7.62h-8.8zM308.6 171.1l4.4 7.62h-8.8zM308.4 171.1l4.4 7.62h-8.8zM308.2 171.2l4.4 7.62h-8.8zM308.0 171.2l4.4 7.62h-8.8zM307.8 171.2l4.4 7.62h-8.8zM307.6 171.3l4.4 7.62h-8.8zM307.4 171.3l4.4 7.62h-8.8zM307.2 171.4l4.4 7.62h-8.8zM307.0 171.4l4.4 7.62h-8.8zM306.8 171.4l4.4 7.62h-8.8zM306.6 171.5l4.4 7.62h-8.8zM306.4 171.5l4.4 7.62h-8.8zM306.2 171.6l4.4 7.62h-8.8zM306.0 171.6l4.4 7.62h-8.8zM305.8 171.6l4.4 7.62h-8.8zM305.6 171.7l4.4 7.62h-8.8zM305.4 171.7l4.4 7.62h-8.8zM305.2 171.7l4.4 7.62h-8.8zM305.1 171.8l4.4 7.62h-8.8zM304.9 171.8l4.4 7.62h-8.8zM304.7 171.8l4.4 7.62h-8.8zM304.5 171.9l4.4 7.62h-8.8zM304.3 171.9l4.4 7.62h-8.8zM303.9 172.0l4.4 7.62h-8.8zM303.7 172.0l4.4 7.62h-8.8zM303.5 172.1l4.4 7.62h-8.8zM303.4 172.1l4.4 7.62h-8.8zM303.2 172.1l4.4 7.62h-8.8zM303.0 172.2l4.4 7.62h-8.8zM302.8 172.2l4.4 7.62h-8.8zM302.6 172.2l4.4 7.62h-8.8zM302.4 172.3l4.4 7.62h-8.8zM302.2 172.3l4.4 7.62h-8.8zM302.1 172.3l4.4 7.62h-8.8zM301.9 172.4l4.4 7.62h-8.8zM301.5 172.4l4.4 7.62h-8.8zM301.3 172.4l4.4 7.62h-8.8zM301.2 172.5l4.4 7.62h-8.8zM301.0 172.5l4.4 7.62h-8.8zM300.8 172.5l4.4 7.62h-8.8zM300.6 172.6l4.4 7.62h-8.8zM300.5 172.6l4.4 7.62h-8.8zM300.3 172.6l4.4 7.62h-8.8zM300.1 172.6l4.4 7.62h-8.8zM299.9 172.7l4.4 7.62h-8.8zM299.8 172.7l4.4 7.62h-8.8zM299.4 172.7l4.4 7.62h-8.8zM299.1 172.8l4.4 7.62h-8.8zM298.9 172.8l4.4 7.62h-8.8zM298.7 172.8l4.4 7.62h-8.8zM298.4 172.9l4.4 7.62h-8.8zM297.9 173.0l4.4 7.62h-8.8zM297.5 173.0l4.4 7.62h-8.8zM297.2 173.1l4.4 7.62h-8.8zM296.9 173.1l4.4 7.62h-8.8zM296.5 173.2l4.4 7.62h-8.8zM296.2 173.2l4.4 7.62h-8.8zM295.9 173.3l4.4 7.62h-8.8zM295.6 173.3l4.4 7.62h-8.8zM295.1 173.4l4.4 7.62h-8.8zM294.9 173.4l4.4 7.62h-8.8zM294.8 173.4l4.4 7.62h-8.8zM294.4 173.5l4.4 7.62h-8.8zM294.1 173.5l4.4 7.62h-8.8zM293.8 173.6l4.4 7.62h-8.8zM293.5 173.6l4.4 7.62h-8.8zM293.3 173.7l4.4 7.62h-8.8zM293.0 173.7l4.4 7.62h-8.8zM292.7 173.8l4.4 7.62h-8.8zM292.4 173.8l4.4 7.62h-8.8zM292.3 173.8l4.4 7.62h-8.8zM292.0 173.9l4.4 7.62h-8.8zM291.7 173.9l4.4 7.62h-8.8zM291.4 174.0l4.4 7.62h-8.8zM290.9 174.0l4.4 7.62h-8.8zM290.6 174.1l4.4 7.62h-8.8zM290.3 174.1l4.4 7.62h-8.8zM289.9 174.2l4.4 7.62h-8.8zM289.6 174.2l4.4 7.62h-8.8zM289.1 174.3l4.4 7.62h-8.8zM288.9 174.3l4.4 7.62h-8.8zM288.6 174.4l4.4 7.62h-8.8zM288.3 174.4l4.4 7.62h-8.8zM288.1 174.4l4.4 7.62h-8.8zM287.9 174.5l4.4 7.62h-8.8zM287.4 174.6l4.4 7.62h-8.8zM287.2 174.6l4.4 7.62h-8.8zM286.9 174.6l4.4 7.62h-8.8zM286.7 174.7l4.4 7.62h-8.8zM286.5 174.7l4.4 7.62h-8.8zM286.1 174.8l4.4 7.62h-8.8zM285.7 174.8l4.4 7.62h-8.8zM285.4 174.9l4.4 7.62h-8.8zM285.0 174.9l4.4 7.62h-8.8zM284.7 175.0l4.4 7.62h-8.8zM284.3 175.0l4.4 7.62h-8.8zM283.9 175.1l4.4 7.62h-8.8zM283.7 175.1l4.4 7.62h-8.8zM283.3 175.2l4.4 7.62h-8.8zM283.0 175.2l4.4 7.62h-8.8zM282.9 175.2l4.4 7.62h-8.8zM282.5 175.3l4.4 7.62h-8.8zM282.2 175.3l4.4 7.62h-8.8zM281.9 175.4l4.4 7.62h-8.8zM281.6 175.4l4.4 7.62h-8.8zM281.5 175.5l4.4 7.62h-8.8zM281.1 175.5l4.4 7.62h-8.8zM280.9 175.6l4.4 7.62h-8.8zM280.6 175.6l4.4 7.62h-8.8zM280.5 175.6l4.4 7.62h-8.8zM280.1 175.7l4.4 7.62h-8.8zM279.8 175.8l4.4 7.62h-8.8zM279.5 175.8l4.4 7.62h-8.8zM279.4 175.8l4.4 7.62h-8.8zM279.0 175.9l4.4 7.62h-8.8zM278.7 176.0l4.4 7.62h-8.8zM278.4 176.0l4.4 7.62h-8.8zM278.3 176.0l4.4 7.62h-8.8zM278.0 176.1l4.4 7.62h-8.8zM277.7 176.2l4.4 7.62h-8.8zM277.4 176.2l4.4 7.62h-8.8zM277.3 176.2l4.4 7.62h-8.8zM276.9 176.3l4.4 7.62h-8.8zM276.6 176.4l4.4 7.62h-8.8zM276.2 176.4l4.4 7.62h-8.8zM275.9 176.5l4.4 7.62h-8.8zM275.5 176.6l4.4 7.62h-8.8zM275.2 176.6l4.4 7.62h-8.8zM275.1 176.6l4.4 7.62h-8.8zM274.9 176.7l4.4 7.62h-8.8zM274.5 176.7l4.4 7.62h-8.8zM274.2 176.8l4.4 7.62h-8.8zM274.1 176.8l4.4 7.62h-8.8zM273.9 176.9l4.4 7.62h-8.8zM273.4 176.9l4.4 7.62h-8.8zM273.1 177.0l4.4 7.62h-8.8zM273.0 177.0l4.4 7.62h-8.8zM272.8 177.1l4.4 7.62h-8.8zM272.5 177.1l4.4 7.62h-8.8zM272.0 177.2l4.4 7.62h-8.8zM271.8 177.2l4.4 7.62h-8.8zM271.7 177.3l4.4 7.62h-8.8zM271.4 177.3l4.4 7.62h-8.8zM271.0 177.4l4.4 7.62h-8.8zM270.8 177.4l4.4 7.62h-8.8zM270.7 177.5l4.4 7.62h-8.8zM270.4 177.5l4.4 7.62h-8.8zM270.0 177.6l4.4 7.62h-8.8zM269.8 177.6l4.4 7.62h-8.8zM269.7 177.6l4.4 7.62h-8.8zM269.3 177.7l4.4 7.62h-8.8zM269.0 177.8l4.4 7.62h-8.8zM268.7 177.8l4.4 7.62h-8.8zM268.6 177.8l4.4 7.62h-8.8zM268.3 177.9l4.4 7.62h-8.8zM267.9 178.0l4.4 7.62h-8.8zM267.6 178.0l4.4 7.62h-8.8zM267.2 178.1l4.4 7.62h-8.8zM266.8 178.2l4.4 7.62h-8.8zM266.5 178.2l4.4 7.62h-8.8zM266.1 178.3l4.4 7.62h-8.8zM265.7 178.4l4.4 7.62h-8.8zM265.5 178.4l4.4 7.62h-8.8zM265.4 178.4l4.4 7.62h-8.8zM265.1 178.5l4.4 7.62h-8.8zM264.7 178.6l4.4 7.62h-8.8zM264.3 178.6l4.4 7.62h-8.8zM264.2 178.6l4.4 7.62h-8.8zM264.1 178.7l4.4 7.62h-8.8zM263.7 178.7l4.4 7.62h-8.8zM263.3 178.8l4.4 7.62h-8.8zM263.2 178.8l4.4 7.62h-8.8zM263.0 178.9l4.4 7.62h-8.8zM262.6 178.9l4.4 7.62h-8.8zM262.3 179.0l4.4 7.62h-8.8zM262.1 179.0l4.4 7.62h-8.8zM261.9 179.1l4.4 7.62h-8.8zM261.6 179.1l4.4 7.62h-8.8zM261.2 179.2l4.4 7.62h-8.8zM261.0 179.2l4.4 7.62h-8.8zM260.9 179.3l4.4 7.62h-8.8zM260.5 179.3l4.4 7.62h-8.8zM260.2 179.4l4.4 7.62h-8.8zM260.0 179.4l4.4 7.62h-8.8zM259.8 179.4l4.4 7.62h-8.8zM259.5 179.5l4.4 7.62h-8.8zM259.2 179.5l4.4 7.62h-8.8zM258.8 179.5l4.4 7.62h-8.8zM258.4 179.6l4.4 7.62h-8.8zM258.1 179.6l4.4 7.62h-8.8zM257.7 179.7l4.4 7.62h-8.8zM257.4 179.7l4.4 7.62h-8.8zM257.0 179.7l4.4 7.62h-8.8zM256.7 179.8l4.4 7.62h-8.8zM256.4 179.8l4.4 7.62h-8.8zM256.1 179.8l4.4 7.62h-8.8zM256.0 179.8l4.4 7.62h-8.8zM255.7 179.9l4.4 7.62h-8.8zM255.3 179.9l4.4 7.62h-8.8zM254.9 179.9l4.4 7.62h-8.8zM254.6 180.0l4.4 7.62h-8.8zM254.3 180.0l4.4 7.62h-8.8zM253.9 180.1l4.4 7.62h-8.8zM253.6 180.1l4.4 7.62h-8.8zM253.2 180.1l4.4 7.62h-8.8zM252.8 180.2l4.4 7.62h-8.8zM252.5 180.2l4.4 7.62h-8.8zM252.3 180.2l4.4 7.62h-8.8zM252.1 180.2l4.4 7.62h-8.8zM251.8 180.3l4.4 7.62h-8.8zM251.4 180.3l4.4 7.62h-8.8zM251.1 180.4l4.4 7.62h-8.8zM250.8 180.4l4.4 7.62h-8.8zM250.4 180.4l4.4 7.62h-8.8zM250.0 180.5l4.4 7.62h-8.8zM249.7 180.5l4.4 7.62h-8.8zM249.3 180.5l4.4 7.62h-8.8zM249.0 180.6l4.4 7.62h-8.8zM248.6 180.6l4.4 7.62h-8.8zM248.5 180.6l4.4 7.62h-8.8zM248.3 180.6l4.4 7.62h-8.8zM247.9 180.7l4.4 7.62h-8.8zM247.6 180.7l4.4 7.62h-8.8zM247.3 180.8l4.4 7.62h-8.8zM246.9 180.8l4.4 7.62h-8.8zM246.6 180.8l4.4 7.62h-8.8zM246.5 180.8l4.4 7.62h-8.8zM246.2 180.9l4.4 7.62h-8.8zM245.8 180.9l4.4 7.62h-8.8zM245.5 180.9l4.4 7.62h-8.8zM245.1 181.0l4.4 7.62h-8.8zM244.8 181.0l4.4 7.62h-8.8zM244.7 181.0l4.4 7.62h-8.8zM244.4 181.1l4.4 7.62h-8.8zM244.1 181.1l4.4 7.62h-8.8zM243.8 181.1l4.4 7.62h-8.8zM243.4 181.2l4.4 7.62h-8.8zM243.0 181.2l4.4 7.62h-8.8zM242.8 181.2l4.4 7.62h-8.8zM242.7 181.2l4.4 7.62h-8.8zM242.3 181.3l4.4 7.62h-8.8zM242.0 181.3l4.4 7.62h-8.8zM241.7 181.3l4.4 7.62h-8.8zM241.3 181.4l4.4 7.62h-8.8zM240.9 181.4l4.4 7.62h-8.8zM240.9 181.4l4.4 7.62h-8.8zM240.6 181.4l4.4 7.62h-8.8zM240.3 181.5l4.4 7.62h-8.8zM239.9 181.5l4.4 7.62h-8.8zM239.5 181.5l4.4 7.62h-8.8zM239.2 181.5l4.4 7.62h-8.8zM238.8 181.6l4.4 7.62h-8.8zM238.5 181.6l4.4 7.62h-8.8zM238.1 181.6l4.4 7.62h-8.8zM238.0 181.6l4.4 7.62h-8.8zM237.8 181.6l4.4 7.62h-8.8zM237.5 181.7l4.4 7.62h-8.8zM237.1 181.7l4.4 7.62h-8.8zM236.7 181.7l4.4 7.62h-8.8zM236.4 181.7l4.4 7.62h-8.8zM236.1 181.8l4.4 7.62h-8.8zM235.7 181.8l4.4 7.62h-8.8zM235.3 181.8l4.4 7.62h-8.8zM235.2 181.8l4.4 7.62h-8.8zM235.0 181.8l4.4 7.62h-8.8zM234.6 181.9l4.4 7.62h-8.8zM234.3 181.9l4.4 7.62h-8.8zM233.9 181.9l4.4 7.62h-8.8zM233.6 181.9l4.4 7.62h-8.8zM233.3 182.0l4.4 7.62h-8.8zM232.9 182.0l4.4 7.62h-8.8zM232.6 182.0l4.4 7.62h-8.8zM232.3 182.0l4.4 7.62h-8.8zM232.2 182.0l4.4 7.62h-8.8zM231.8 182.1l4.4 7.62h-8.8zM231.5 182.1l4.4 7.62h-8.8zM231.1 182.1l4.4 7.62h-8.8zM230.8 182.1l4.4 7.62h-8.8zM230.4 182.2l4.4 7.62h-8.8zM230.1 182.2l4.4 7.62h-8.8zM229.7 182.2l4.4 7.62h-8.8zM229.5 182.2l4.4 7.62h-8.8zM229.4 182.2l4.4 7.62h-8.8zM229.0 182.3l4.4 7.62h-8.8zM228.7 182.3l4.4 7.62h-8.8zM228.4 182.3l4.4 7.62h-8.8zM228.0 182.3l4.4 7.62h-8.8zM227.6 182.4l4.4 7.62h-8.8zM227.3 182.4l4.4 7.62h-8.8zM226.9 182.4l4.4 7.62h-8.8zM226.6 182.4l4.4 7.62h-8.8zM226.2 182.4l4.4 7.62h-8.8zM225.9 182.5l4.4 7.62h-8.8zM225.5 182.5l4.4 7.62h-8.8zM225.2 182.5l4.4 7.62h-8.8zM224.9 182.5l4.4 7.62h-8.8zM224.5 182.6l4.4 7.62h-8.8zM224.1 182.6l4.4 7.62h-8.8zM223.8 182.6l4.4 7.62h-8.8zM223.5 182.6l4.4 7.62h-8.8zM223.1 182.6l4.4 7.62h-8.8zM222.8 182.7l4.4 7.62h-8.8zM222.4 182.7l4.4 7.62h-8.8zM222.0 182.7l4.4 7.62h-8.8zM221.7 182.7l4.4 7.62h-8.8zM221.3 182.7l4.4 7.62h-8.8zM221.0 182.7l4.4 7.62h-8.8zM220.7 182.7l4.4 7.62h-8.8zM220.3 182.7l4.4 7.62h-8.8zM220.0 182.7l4.4 7.62h-8.8zM219.6 182.8l4.4 7.62h-8.8zM219.3 182.8l4.4 7.62h-8.8zM218.9 182.8l4.4 7.62h-8.8zM218.6 182.8l4.4 7.62h-8.8zM218.2 182.8l4.4 7.62h-8.8zM217.8 182.8l4.4 7.62h-8.8zM217.5 182.8l4.4 7.62h-8.8zM217.2 182.8l4.4 7.62h-8.8zM216.8 182.9l4.4 7.62h-8.8zM216.5 182.9l4.4 7.62h-8.8zM216.1 182.9l4.4 7.62h-8.8zM215.8 182.9l4.4 7.62h-8.8zM215.4 182.9l4.4 7.62h-8.8zM215.0 182.9l4.4 7.62h-8.8zM214.7 182.9l4.4 7.62h-8.8zM214.4 182.9l4.4 7.62h-8.8zM214.0 182.9l4.4 7.62h-8.8zM213.7 183.0l4.4 7.62h-8.8zM213.3 183.0l4.4 7.62h-8.8zM213.0 183.0l4.4 7.62h-8.8zM212.6 183.0l4.4 7.62h-8.8zM212.3 183.0l4.4 7.62h-8.8zM211.9 183.0l4.4 7.62h-8.8zM211.9 183.0l4.4 7.62h-8.8zM211.6 183.0l4.4 7.62h-8.8zM211.2 183.0l4.4 7.62h-8.8zM210.8 183.1l4.4 7.62h-8.8zM210.5 183.1l4.4 7.62h-8.8zM210.1 183.1l4.4 7.62h-8.8zM209.8 183.1l4.4 7.62h-8.8zM209.5 183.1l4.4 7.62h-8.8zM209.1 183.1l4.4 7.62h-8.8zM208.8 183.1l4.4 7.62h-8.8zM208.4 183.1l4.4 7.62h-8.8zM208.1 183.1l4.4 7.62h-8.8zM207.7 183.2l4.4 7.62h-8.8zM207.4 183.2l4.4 7.62h-8.8zM207.0 183.2l4.4 7.62h-8.8zM206.7 183.2l4.4 7.62h-8.8zM206.3 183.2l4.4 7.62h-8.8zM206.0 183.2l4.4 7.62h-8.8zM205.9 183.2l4.4 7.62h-8.8zM205.6 183.2l4.4 7.62h-8.8zM205.3 183.2l4.4 7.62h-8.8zM204.9 183.3l4.4 7.62h-8.8zM204.6 183.3l4.4 7.62h-8.8zM204.2 183.3l4.4 7.62h-8.8zM203.9 183.3l4.4 7.62h-8.8zM203.5 183.3l4.4 7.62h-8.8zM203.2 183.3l4.4 7.62h-8.8zM202.8 183.3l4.4 7.62h-8.8zM202.5 183.3l4.4 7.62h-8.8zM202.1 183.3l4.4 7.62h-8.8zM201.8 183.4l4.4 7.62h-8.8zM201.4 183.4l4.4 7.62h-8.8zM201.1 183.4l4.4 7.62h-8.8zM200.7 183.4l4.4 7.62h-8.8zM200.4 183.4l4.4 7.62h-8.8zM200.0 183.4l4.4 7.62h-8.8zM200.0 183.4l4.4 7.62h-8.8zM199.7 183.4l4.4 7.62h-8.8zM199.3 183.5l4.4 7.62h-8.8zM199.0 183.5l4.4 7.62h-8.8zM198.6 183.5l4.4 7.62h-8.8zM198.3 183.5l4.4 7.62h-8.8zM197.9 183.5l4.4 7.62h-8.8zM197.6 183.5l4.4 7.62h-8.8zM197.2 183.6l4.4 7.62h-8.8zM196.9 183.6l4.4 7.62h-8.8zM196.5 183.6l4.4 7.62h-8.8zM196.1 183.6l4.4 7.62h-8.8zM196.0 183.6l4.4 7.62h-8.8zM195.8 183.6l4.4 7.62h-8.8zM195.5 183.6l4.4 7.62h-8.8zM195.1 183.7l4.4 7.62h-8.8zM194.8 183.7l4.4 7.62h-8.8zM194.4 183.7l4.4 7.62h-8.8zM194.1 183.7l4.4 7.62h-8.8zM193.7 183.7l4.4 7.62h-8.8zM193.4 183.8l4.4 7.62h-8.8zM193.0 183.8l4.4 7.62h-8.8zM192.7 183.8l4.4 7.62h-8.8zM192.3 183.8l4.4 7.62h-8.8zM192.0 183.8l4.4 7.62h-8.8zM192.0 183.8l4.4 7.62h-8.8zM191.6 183.8l4.4 7.62h-8.8zM191.3 183.9l4.4 7.62h-8.8zM190.9 183.9l4.4 7.62h-8.8zM190.6 183.9l4.4 7.62h-8.8zM190.2 183.9l4.4 7.62h-8.8zM189.9 183.9l4.4 7.62h-8.8zM189.5 183.9l4.4 7.62h-8.8zM189.2 184.0l4.4 7.62h-8.8zM188.8 184.0l4.4 7.62h-8.8zM188.5 184.0l4.4 7.62h-8.8zM188.1 184.0l4.4 7.62h-8.8zM188.0 184.0l4.4 7.62h-8.8zM187.8 184.0l4.4 7.62h-8.8zM187.4 184.0l4.4 7.62h-8.8zM187.1 184.1l4.4 7.62h-8.8zM186.7 184.1l4.4 7.62h-8.8zM186.4 184.1l4.4 7.62h-8.8zM186.0 184.1l4.4 7.62h-8.8zM185.7 184.1l4.4 7.62h-8.8zM185.3 184.2l4.4 7.62h-8.8zM185.0 184.2l4.4 7.62h-8.8zM184.6 184.2l4.4 7.62h-8.8zM184.3 184.2l4.4 7.62h-8.8zM184.0 184.2l4.4 7.62h-8.8zM183.9 184.2l4.4 7.62h-8.8zM183.6 184.2l4.4 7.62h-8.8zM183.2 184.3l4.4 7.62h-8.8zM182.9 184.3l4.4 7.62h-8.8zM182.5 184.3l4.4 7.62h-8.8zM182.2 184.3l4.4 7.62h-8.8zM181.8 184.3l4.4 7.62h-8.8zM181.5 184.3l4.4 7.62h-8.8zM181.1 184.4l4.4 7.62h-8.8zM180.8 184.4l4.4 7.62h-8.8zM180.4 184.4l4.4 7.62h-8.8zM180.1 184.4l4.4 7.62h-8.8zM180.0 184.4l4.4 7.62h-8.8zM179.7 184.4l4.4 7.62h-8.8zM179.4 184.5l4.4 7.62h-8.8zM179.0 184.5l4.4 7.62h-8.8zM178.7 184.5l4.4 7.62h-8.8zM178.3 184.5l4.4 7.62h-8.8zM178.0 184.5l4.4 7.62h-8.8zM177.6 184.5l4.4 7.62h-8.8zM177.3 184.6l4.4 7.62h-8.8zM176.9 184.6l4.4 7.62h-8.8zM176.6 184.6l4.4 7.62h-8.8zM176.2 184.6l4.4 7.62h-8.8zM176.0 184.6l4.4 7.62h-8.8zM175.9 184.6l4.4 7.62h-8.8zM175.5 184.6l4.4 7.62h-8.8zM175.2 184.7l4.4 7.62h-8.8zM174.8 184.7l4.4 7.62h-8.8zM174.5 184.7l4.4 7.62h-8.8zM174.1 184.7l4.4 7.62h-8.8zM173.8 184.7l4.4 7.62h-8.8zM173.4 184.7l4.4 7.62h-8.8zM173.1 184.8l4.4 7.62h-8.8zM172.7 184.8l4.4 7.62h-8.8zM172.4 184.8l4.4 7.62h-8.8zM172.0 184.8l4.4 7.62h-8.8zM172.0 184.8l4.4 7.62h-8.8zM171.7 184.8l4.4 7.62h-8.8zM171.3 184.9l4.4 7.62h-8.8zM171.0 184.9l4.4 7.62h-8.8zM170.6 184.9l4.4 7.62h-8.8zM170.3 184.9l4.4 7.62h-8.8zM169.9 184.9l4.4 7.62h-8.8zM169.6 184.9l4.4 7.62h-8.8zM169.2 184.9l4.4 7.62h-8.8zM168.9 184.9l4.4 7.62h-8.8zM168.5 184.9l4.4 7.62h-8.8zM168.2 184.9l4.4 7.62h-8.8zM167.8 184.9l4.4 7.62h-8.8zM167.5 184.9l4.4 7.62h-8.8zM167.1 185.0l4.4 7.62h-8.8zM166.8 185.0l4.4 7.62h-8.8zM166.4 185.0l4.4 7.62h-8.8zM166.1 185.0l4.4 7.62h-8.8zM165.7 185.0l4.4 7.62h-8.8zM165.4 185.0l4.4 7.62h-8.8zM165.0 185.0l4.4 7.62h-8.8zM164.7 185.0l4.4 7.62h-8.8zM164.3 185.0l4.4 7.62h-8.8zM164.0 185.0l4.4 7.62h-8.8zM163.6 185.0l4.4 7.62h-8.8zM163.3 185.0l4.4 7.62h-8.8zM162.9 185.0l4.4 7.62h-8.8zM162.6 185.0l4.4 7.62h-8.8zM162.2 185.0l4.4 7.62h-8.8zM161.9 185.0l4.4 7.62h-8.8zM161.5 185.0l4.4 7.62h-8.8zM161.2 185.0l4.4 7.62h-8.8zM160.9 185.0l4.4 7.62h-8.8zM160.8 185.0l4.4 7.62h-8.8zM160.5 185.0l4.4 7.62h-8.8zM160.1 185.0l4.4 7.62h-8.8zM159.8 185.0l4.4 7.62h-8.8zM159.4 185.0l4.4 7.62h-8.8zM159.1 185.0l4.4 7.62h-8.8zM158.7 185.0l4.4 7.62h-8.8zM158.4 185.0l4.4 7.62h-8.8zM158.0 185.1l4.4 7.62h-8.8zM157.7 185.1l4.4 7.62h-8.8zM157.3 185.1l4.4 7.62h-8.8zM157.0 185.1l4.4 7.62h-8.8zM156.6 185.1l4.4 7.62h-8.8zM156.3 185.1l4.4 7.62h-8.8zM155.9 185.1l4.4 7.62h-8.8zM155.6 185.1l4.4 7.62h-8.8zM155.2 185.1l4.4 7.62h-8.8zM154.9 185.1l4.4 7.62h-8.8zM154.5 185.1l4.4 7.62h-8.8zM154.2 185.1l4.4 7.62h-8.8zM153.8 185.1l4.4 7.62h-8.8zM153.5 185.1l4.4 7.62h-8.8zM153.1 185.1l4.4 7.62h-8.8zM152.8 185.1l4.4 7.62h-8.8zM152.4 185.1l4.4 7.62h-8.8zM152.1 185.1l4.4 7.62h-8.8zM151.7 185.1l4.4 7.62h-8.8zM151.4 185.1l4.4 7.62h-8.8zM151.0 185.1l4.4 7.62h-8.8zM150.7 185.1l4.4 7.62h-8.8zM150.3 185.1l4.4 7.62h-8.8zM150.0 185.1l4.4 7.62h-8.8zM149.6 185.1l4.4 7.62h-8.8zM149.3 185.1l4.4 7.62h-8.8zM148.9 185.2l4.4 7.62h-8.8zM148.6 185.2l4.4 7.62h-8.8zM148.2 185.2l4.4 7.62h-8.8zM147.9 185.2l4.4 7.62h-8.8zM147.5 185.2l4.4 7.62h-8.8zM147.2 185.2l4.4 7.62h-8.8zM146.8 185.2l4.4 7.62h-8.8zM146.5 185.2l4.4 7.62h-8.8zM146.1 185.2l4.4 7.62h-8.8zM145.8 185.2l4.4 7.62h-8.8zM145.4 185.2l4.4 7.62h-8.8zM145.1 185.2l4.4 7.62h-8.8zM144.7 185.2l4.4 7.62h-8.8zM144.4 185.2l4.4 7.62h-8.8zM144.0 185.2l4.4 7.62h-8.8zM143.7 185.2l4.4 7.62h-8.8zM143.3 185.2l4.4 7.62h-8.8zM143.0 185.2l4.4 7.62h-8.8zM142.6 185.2l4.4 7.62h-8.8zM142.6 185.2l4.4 7.62h-8.8zM142.3 185.2l4.4 7.62h-8.8zM141.9 185.2l4.4 7.62h-8.8zM141.6 185.2l4.4 7.62h-8.8zM141.2 185.2l4.4 7.62h-8.8zM140.9 185.2l4.4 7.62h-8.8zM140.5 185.2l4.4 7.62h-8.8zM140.2 185.2l4.4 7.62h-8.8zM139.8 185.3l4.4 7.62h-8.8zM139.5 185.3l4.4 7.62h-8.8zM139.1 185.3l4.4 7.62h-8.8zM138.8 185.3l4.4 7.62h-8.8zM138.4 185.3l4.4 7.62h-8.8zM138.1 185.3l4.4 7.62h-8.8zM137.7 185.3l4.4 7.62h-8.8zM137.4 185.3l4.4 7.62h-8.8zM137.0 185.3l4.4 7.62h-8.8zM136.7 185.3l4.4 7.62h-8.8zM136.3 185.3l4.4 7.62h-8.8zM136.0 185.3l4.4 7.62h-8.8zM135.6 185.3l4.4 7.62h-8.8zM135.3 185.3l4.4 7.62h-8.8zM134.9 185.3l4.4 7.62h-8.8zM134.6 185.3l4.4 7.62h-8.8zM134.2 185.3l4.4 7.62h-8.8zM133.9 185.3l4.4 7.62h-8.8zM133.5 185.3l4.4 7.62h-8.8zM133.2 185.3l4.4 7.62h-8.8zM132.8 185.3l4.4 7.62h-8.8zM132.5 185.3l4.4 7.62h-8.8zM132.1 185.3l4.4 7.62h-8.8zM131.8 185.3l4.4 7.62h-8.8zM131.4 185.3l4.4 7.62h-8.8zM131.1 185.3l4.4 7.62h-8.8zM130.7 185.4l4.4 7.62h-8.8zM130.4 185.4l4.4 7.62h-8.8zM130.0 185.4l4.4 7.62h-8.8zM129.7 185.4l4.4 7.62h-8.8zM129.3 185.4l4.4 7.62h-8.8zM129.0 185.4l4.4 7.62h-8.8zM128.6 185.4l4.4 7.62h-8.8zM128.3 185.4l4.4 7.62h-8.8zM127.9 185.4l4.4 7.62h-8.8zM127.6 185.4l4.4 7.62h-8.8zM127.2 185.4l4.4 7.62h-8.8zM126.9 185.4l4.4 7.62h-8.8zM126.5 185.4l4.4 7.62h-8.8zM126.2 185.4l4.4 7.62h-8.8zM125.8 185.4l4.4 7.62h-8.8zM125.5 185.4l4.4 7.62h-8.8zM125.1 185.4l4.4 7.62h-8.8zM124.8 185.4l4.4 7.62h-8.8zM124.4 185.4l4.4 7.62h-8.8z" fill="#8DA0CB"/>
<line x1="97.9" y1="191.02" x2="684.2" y2="178.34" stroke="#000" stroke-opacity="0.64" stroke-width="3.1"/>
<text x="105.8" y="44.6" font-size="17.6" fill="#000" font-family="Liberation Sans, sans-serif">QTL count</text>
<rect x="111.45" y="68.2" width="6.5" height="6.5" fill="#66C2A5"/>
<circle cx="114.7" cy="87.7" r="3.3" fill="#FC8D62"/>
<path d="M114.7 99.35l4.4 7.62h-8.8z" fill="#8DA0CB"/>
<text x="131.1" y="78.3" font-size="17.4" fill="#000" font-family="Liberation Sans, sans-serif">eQTL</text>
<text x="184.7" y="78.3" font-size="17.4" fill="#000" font-family="Liberation Sans, sans-serif">3,253</text>
<text x="131.1" y="94.6" font-size="17.4" fill="#000" font-family="Liberation Sans, sans-serif">rQTL</text>
<path d="M191.18 94.60H189.65V84.85Q189.10 85.38 188.20 85.91Q187.31 86.44 186.59 86.70V85.22Q187.88 84.62 188.84 83.76Q189.80 82.90 190.20 82.14H191.18Z" fill="#000"/>
<text x="184.7" y="94.6" font-size="17.4" fill="#000" font-family="Liberation Sans, sans-serif"> ,344</text>
<text x="131.1" y="110.9" font-size="17.4" fill="#000" font-family="Liberation Sans, sans-serif">pQTL</text>
<text x="184.7" y="110.9" font-size="17.4" fill="#000" font-family="Liberation Sans, sans-serif">657</text>
<rect x="97.9" y="17.7" width="586.3000000000001" height="180.20000000000002" fill="none" stroke="#333333" stroke-width="1.9"/>
<line x1="89.5" y1="190.45" x2="97.9" y2="190.45" stroke="#333333" stroke-width="2.6"/>
<text x="83.1" y="195.95" font-size="15" fill="#4D4D4D" text-anchor="end" font-family="Liberation Sans, sans-serif">0</text>
<line x1="89.5" y1="135.12" x2="97.9" y2="135.12" stroke="#333333" stroke-width="2.6"/>
<text x="83.1" y="140.62" font-size="15" fill="#4D4D4D" text-anchor="end" font-family="Liberation Sans, sans-serif">20</text>
<line x1="89.5" y1="79.78" x2="97.9" y2="79.78" stroke="#333333" stroke-width="2.6"/>
<text x="83.1" y="85.28" font-size="15" fill="#4D4D4D" text-anchor="end" font-family="Liberation Sans, sans-serif">40</text>
<line x1="89.5" y1="24.45" x2="97.9" y2="24.45" stroke="#333333" stroke-width="2.6"/>
<text x="83.1" y="29.95" font-size="15" fill="#4D4D4D" text-anchor="end" font-family="Liberation Sans, sans-serif">60</text>
<line x1="124.35" y1="197.9" x2="124.35" y2="206.9" stroke="#333333" stroke-width="2.6"/>
<text x="124.35" y="223.9" font-size="15" fill="#4D4D4D" text-anchor="middle" font-family="Liberation Sans, sans-serif">0</text>
<line x1="252.27" y1="197.9" x2="252.27" y2="206.9" stroke="#333333" stroke-width="2.6"/>
<path d="M253.69 223.90H252.38V215.50Q251.90 215.95 251.13 216.41Q250.35 216.86 249.74 217.09V215.81Q250.84 215.29 251.67 214.55Q252.50 213.81 252.84 213.16H253.69Z" fill="#4D4D4D"/>
<line x1="380.20" y1="197.9" x2="380.20" y2="206.9" stroke="#333333" stroke-width="2.6"/>
<text x="380.20" y="223.9" font-size="15" fill="#4D4D4D" text-anchor="middle" font-family="Liberation Sans, sans-serif">2</text>
<line x1="508.12" y1="197.9" x2="508.12" y2="206.9" stroke="#333333" stroke-width="2.6"/>
<text x="508.12" y="223.9" font-size="15" fill="#4D4D4D" text-anchor="middle" font-family="Liberation Sans, sans-serif">3</text>
<line x1="636.05" y1="197.9" x2="636.05" y2="206.9" stroke="#333333" stroke-width="2.6"/>
<text x="636.05" y="223.9" font-size="15" fill="#4D4D4D" text-anchor="middle" font-family="Liberation Sans, sans-serif">4</text>
<text x="318.3" y="244.1" font-size="17.5" fill="#000" font-family="Liberation Sans, sans-serif">Expected −log</text>
<text x="429.8" y="246.9" font-size="12" fill="#000" font-family="Liberation Sans, sans-serif"> 0</text>
<path d="M434.27 246.90H433.22V240.18Q432.84 240.54 432.22 240.91Q431.60 241.27 431.11 241.45V240.43Q431.99 240.02 432.65 239.42Q433.32 238.83 433.59 238.31H434.27Z" fill="#000"/>
<text x="443.1" y="244.1" font-size="17.5" fill="#000" font-family="Liberation Sans, sans-serif">(p)</text>
<g transform="translate(27.9 181.6) rotate(-90)"><text x="0" y="0" font-size="17.5" fill="#000" font-family="Liberation Sans, sans-serif">Observed −log</text><text x="113.8" y="3.0" font-size="12" fill="#000" font-family="Liberation Sans, sans-serif"> 0</text><path d="M118.27 3.00H117.22V-3.72Q116.84 -3.36 116.22 -2.99Q115.60 -2.63 115.11 -2.45V-3.47Q115.99 -3.88 116.65 -4.48Q117.32 -5.07 117.59 -5.59H118.27Z" fill="#000"/><text x="127.2" y="0" font-size="17.5" fill="#000" font-family="Liberation Sans, sans-serif">(p)</text></g>
<text x="-0.5" y="14.6" font-size="20.5" font-weight="bold" fill="#000" font-family="Liberation Sans, sans-serif">A</text>
<rect x="102.4" y="303.3" width="180.6" height="180.39999999999998" fill="#fff"/>
<line x1="135.66" y1="303.3" x2="135.66" y2="483.7" stroke="#EBEBEB" stroke-width="2.9"/>
<line x1="192.59" y1="303.3" x2="192.59" y2="483.7" stroke="#EBEBEB" stroke-width="2.9"/>
<line x1="249.52" y1="303.3" x2="249.52" y2="483.7" stroke="#EBEBEB" stroke-width="2.9"/>
<line x1="102.4" y1="336.75" x2="283.0" y2="336.75" stroke="#EBEBEB" stroke-width="2.9"/>
<line x1="102.4" y1="393.45" x2="283.0" y2="393.45" stroke="#EBEBEB" stroke-width="2.9"/>
<line x1="102.4" y1="450.15" x2="283.0" y2="450.15" stroke="#EBEBEB" stroke-width="2.9"/>
<rect x="107.20" y="308.40" width="57.23" height="57.00" fill="#4a843c"/>
<rect x="164.13" y="308.40" width="57.23" height="57.00" fill="#3a7b2e"/>
<rect x="221.06" y="308.40" width="57.23" height="57.00" fill="#4D4D4D"/>
<rect x="107.20" y="365.10" width="57.23" height="57.00" fill="#337727"/>
<rect x="164.13" y="365.10" width="57.23" height="57.00" fill="#4D4D4D"/>
<rect x="221.06" y="365.10" width="57.23" height="57.00" fill="#76a169"/>
<rect x="107.20" y="421.80" width="57.23" height="57.00" fill="#4D4D4D"/>
<rect x="164.13" y="421.80" width="57.23" height="57.00" fill="#6f9c61"/>
<rect x="221.06" y="421.80" width="57.23" height="57.00" fill="#aac5a1"/>
<text x="135.66" y="342.95" font-size="17.5" fill="#000" text-anchor="middle" font-family="Liberation Sans, sans-serif">0.759</text>
<text x="192.59" y="342.95" font-size="17.5" fill="#000" text-anchor="middle" font-family="Liberation Sans, sans-serif">0.82</text>
<text x="135.66" y="399.65" font-size="17.5" fill="#000" text-anchor="middle" font-family="Liberation Sans, sans-serif">0.847</text>
<text x="249.52" y="399.65" font-size="17.5" fill="#000" text-anchor="middle" font-family="Liberation Sans, sans-serif">0.569</text>
<text x="192.59" y="456.35" font-size="17.5" fill="#000" text-anchor="middle" font-family="Liberation Sans, sans-serif">0.602</text>
<text x="249.52" y="456.35" font-size="17.5" fill="#000" text-anchor="middle" font-family="Liberation Sans, sans-serif">0.34</text>
<rect x="102.4" y="303.3" width="180.6" height="180.39999999999998" fill="none" stroke="#333333" stroke-width="1.8"/>
<line x1="94.1" y1="336.75" x2="102.4" y2="336.75" stroke="#333333" stroke-width="2.6"/>
<text x="64.3" y="341.85" font-size="14.7" fill="#4D4D4D" text-anchor="middle" font-family="Liberation Sans, sans-serif">Protein</text>
<line x1="94.1" y1="393.45" x2="102.4" y2="393.45" stroke="#333333" stroke-width="2.6"/>
<text x="64.3" y="398.55" font-size="14.7" fill="#4D4D4D" text-anchor="middle" font-family="Liberation Sans, sans-serif">Ribo</text>
<line x1="94.1" y1="450.15" x2="102.4" y2="450.15" stroke="#333333" stroke-width="2.6"/>
<text x="64.3" y="455.25" font-size="14.7" fill="#4D4D4D" text-anchor="middle" font-family="Liberation Sans, sans-serif">mRNA</text>
<line x1="135.66" y1="483.7" x2="135.66" y2="492.1" stroke="#333333" stroke-width="2.6"/>
<text x="135.66" y="510.8" font-size="14.7" fill="#4D4D4D" text-anchor="middle" font-family="Liberation Sans, sans-serif">mRNA</text>
<line x1="192.59" y1="483.7" x2="192.59" y2="492.1" stroke="#333333" stroke-width="2.6"/>
<text x="192.59" y="510.8" font-size="14.7" fill="#4D4D4D" text-anchor="middle" font-family="Liberation Sans, sans-serif">Ribo</text>
<line x1="249.52" y1="483.7" x2="249.52" y2="492.1" stroke="#333333" stroke-width="2.6"/>
<text x="249.52" y="510.8" font-size="14.7" fill="#4D4D4D" text-anchor="middle" font-family="Liberation Sans, sans-serif">Protein</text>
<text x="192.8" y="530.5" font-size="17.5" fill="#000" text-anchor="middle" font-family="Liberation Sans, sans-serif">Replication omics types</text>
<text transform="translate(31.4 393.1) rotate(-90)" x="0" y="0" font-size="17.5" fill="#000" text-anchor="middle" font-family="Liberation Sans, sans-serif">Discovery omics types</text>
<text x="0" y="300.2" font-size="20.5" font-weight="bold" fill="#000" font-family="Liberation Sans, sans-serif">B</text>
<defs><linearGradient id="cb" x1="0" y1="1" x2="0" y2="0"><stop offset="0.00" stop-color="#ffffff"/><stop offset="0.10" stop-color="#e7efe4"/><stop offset="0.20" stop-color="#d0dfca"/><stop offset="0.30" stop-color="#b9cfb1"/><stop offset="0.40" stop-color="#a2c098"/><stop offset="0.50" stop-color="#8bb07f"/><stop offset="0.60" stop-color="#75a167"/><stop offset="0.70" stop-color="#5e9150"/><stop offset="0.80" stop-color="#468238"/><stop offset="0.90" stop-color="#2b7320"/><stop offset="1.00" stop-color="#006400"/></linearGradient></defs>
<rect x="306.1" y="367.2" width="17.7" height="82.6" fill="url(#cb)"/>
<path d="M333.50 372.30H332.23V364.18Q331.77 364.62 331.02 365.06Q330.27 365.50 329.68 365.72V364.48Q330.75 363.98 331.55 363.27Q332.35 362.55 332.68 361.92H333.50Z" fill="#000"/>
<text x="328.1" y="372.30" font-size="14.5" fill="#000" font-family="Liberation Sans, sans-serif"> .0</text>
<text x="328.1" y="413.60" font-size="14.5" fill="#000" font-family="Liberation Sans, sans-serif">0.5</text>
<text x="328.1" y="454.90" font-size="14.5" fill="#000" font-family="Liberation Sans, sans-serif">0.0</text>
<text x="306.6" y="348.9" font-size="13" fill="#000" font-family="Liberation Sans, sans-serif">π</text>
<path d="M321.10 348.90H319.76V340.33Q319.27 340.79 318.48 341.26Q317.69 341.72 317.07 341.95V340.65Q318.19 340.12 319.04 339.37Q319.88 338.61 320.23 337.95H321.10Z" fill="#000"/>
<rect x="495.0" y="303.3" width="188.60000000000002" height="180.3" fill="#fff"/>
<line x1="495.0" y1="448.60" x2="683.6" y2="448.60" stroke="#EBEBEB" stroke-width="1.6"/>
<line x1="495.0" y1="393.40" x2="683.6" y2="393.40" stroke="#EBEBEB" stroke-width="1.6"/>
<line x1="495.0" y1="338.20" x2="683.6" y2="338.20" stroke="#EBEBEB" stroke-width="1.6"/>
<line x1="495.0" y1="476.20" x2="683.6" y2="476.20" stroke="#EBEBEB" stroke-width="2.9"/>
<line x1="495.0" y1="421.00" x2="683.6" y2="421.00" stroke="#EBEBEB" stroke-width="2.9"/>
<line x1="495.0" y1="365.80" x2="683.6" y2="365.80" stroke="#EBEBEB" stroke-width="2.9"/>
<line x1="495.0" y1="310.60" x2="683.6" y2="310.60" stroke="#EBEBEB" stroke-width="2.9"/>
<line x1="530.4" y1="303.3" x2="530.4" y2="483.6" stroke="#EBEBEB" stroke-width="2.9"/>
<line x1="589.6" y1="303.3" x2="589.6" y2="483.6" stroke="#EBEBEB" stroke-width="2.9"/>
<line x1="648.9" y1="303.3" x2="648.9" y2="483.6" stroke="#EBEBEB" stroke-width="2.9"/>
<path d="M503.3 339.2H557.0M503.3 344.8H557.0M530.3 339.2V344.8" stroke="#66C2A5" stroke-width="1.8" fill="none"/>
<circle cx="530.3" cy="342.1" r="3.4" fill="#66C2A5"/>
<path d="M563.2 372.8H616.7M563.2 377.2H616.7M589.8 372.8V377.2" stroke="#FC8D62" stroke-width="1.8" fill="none"/>
<circle cx="589.8" cy="375.0" r="3.4" fill="#FC8D62"/>
<path d="M622.8 392.2H675.6M622.8 396.1H675.6M649.0 392.2V396.1" stroke="#8DA0CB" stroke-width="1.8" fill="none"/>
<circle cx="649.0" cy="394.2" r="3.4" fill="#8DA0CB"/>
<rect x="495.0" y="303.3" width="188.60000000000002" height="180.3" fill="none" stroke="#333333" stroke-width="1.8"/>
<line x1="486.6" y1="476.20" x2="495.0" y2="476.20" stroke="#333333" stroke-width="2.6"/>
<text x="480.7" y="481.80" font-size="14.5" fill="#4D4D4D" text-anchor="end" font-family="Liberation Sans, sans-serif">0.0</text>
<line x1="486.6" y1="421.00" x2="495.0" y2="421.00" stroke="#333333" stroke-width="2.6"/>
<path d="M478.04 426.60H476.77V418.48Q476.31 418.92 475.56 419.36Q474.81 419.80 474.22 420.02V418.78Q475.29 418.28 476.09 417.57Q476.89 416.85 477.22 416.22H478.04Z" fill="#4D4D4D"/>
<text x="480.7" y="426.60" font-size="14.5" fill="#4D4D4D" text-anchor="end" font-family="Liberation Sans, sans-serif">0. </text>
<line x1="486.6" y1="365.80" x2="495.0" y2="365.80" stroke="#333333" stroke-width="2.6"/>
<text x="480.7" y="371.40" font-size="14.5" fill="#4D4D4D" text-anchor="end" font-family="Liberation Sans, sans-serif">0.2</text>
<line x1="486.6" y1="310.60" x2="495.0" y2="310.60" stroke="#333333" stroke-width="2.6"/>
<text x="480.7" y="316.20" font-size="14.5" fill="#4D4D4D" text-anchor="end" font-family="Liberation Sans, sans-serif">0.3</text>
<line x1="530.4" y1="483.6" x2="530.4" y2="491.6" stroke="#333333" stroke-width="2.6"/>
<text x="530.4" y="509.4" font-size="14.7" fill="#4D4D4D" text-anchor="middle" font-family="Liberation Sans, sans-serif">mRNA</text>
<line x1="589.6" y1="483.6" x2="589.6" y2="491.6" stroke="#333333" stroke-width="2.6"/>
<text x="589.6" y="509.4" font-size="14.7" fill="#4D4D4D" text-anchor="middle" font-family="Liberation Sans, sans-serif">Ribo</text>
<line x1="648.9" y1="483.6" x2="648.9" y2="491.6" stroke="#333333" stroke-width="2.6"/>
<text x="648.9" y="509.4" font-size="14.7" fill="#4D4D4D" text-anchor="middle" font-family="Liberation Sans, sans-serif">Protein</text>
<text transform="translate(448.2 394.3) rotate(-90)" x="0" y="0" font-size="17.5" fill="#000" text-anchor="middle" font-family="Liberation Sans, sans-serif">Effect size</text>
<text x="420.6" y="300.3" font-size="20" font-weight="bold" fill="#000" font-family="Liberation Sans, sans-serif">C</text>
</svg>
</body></html>
